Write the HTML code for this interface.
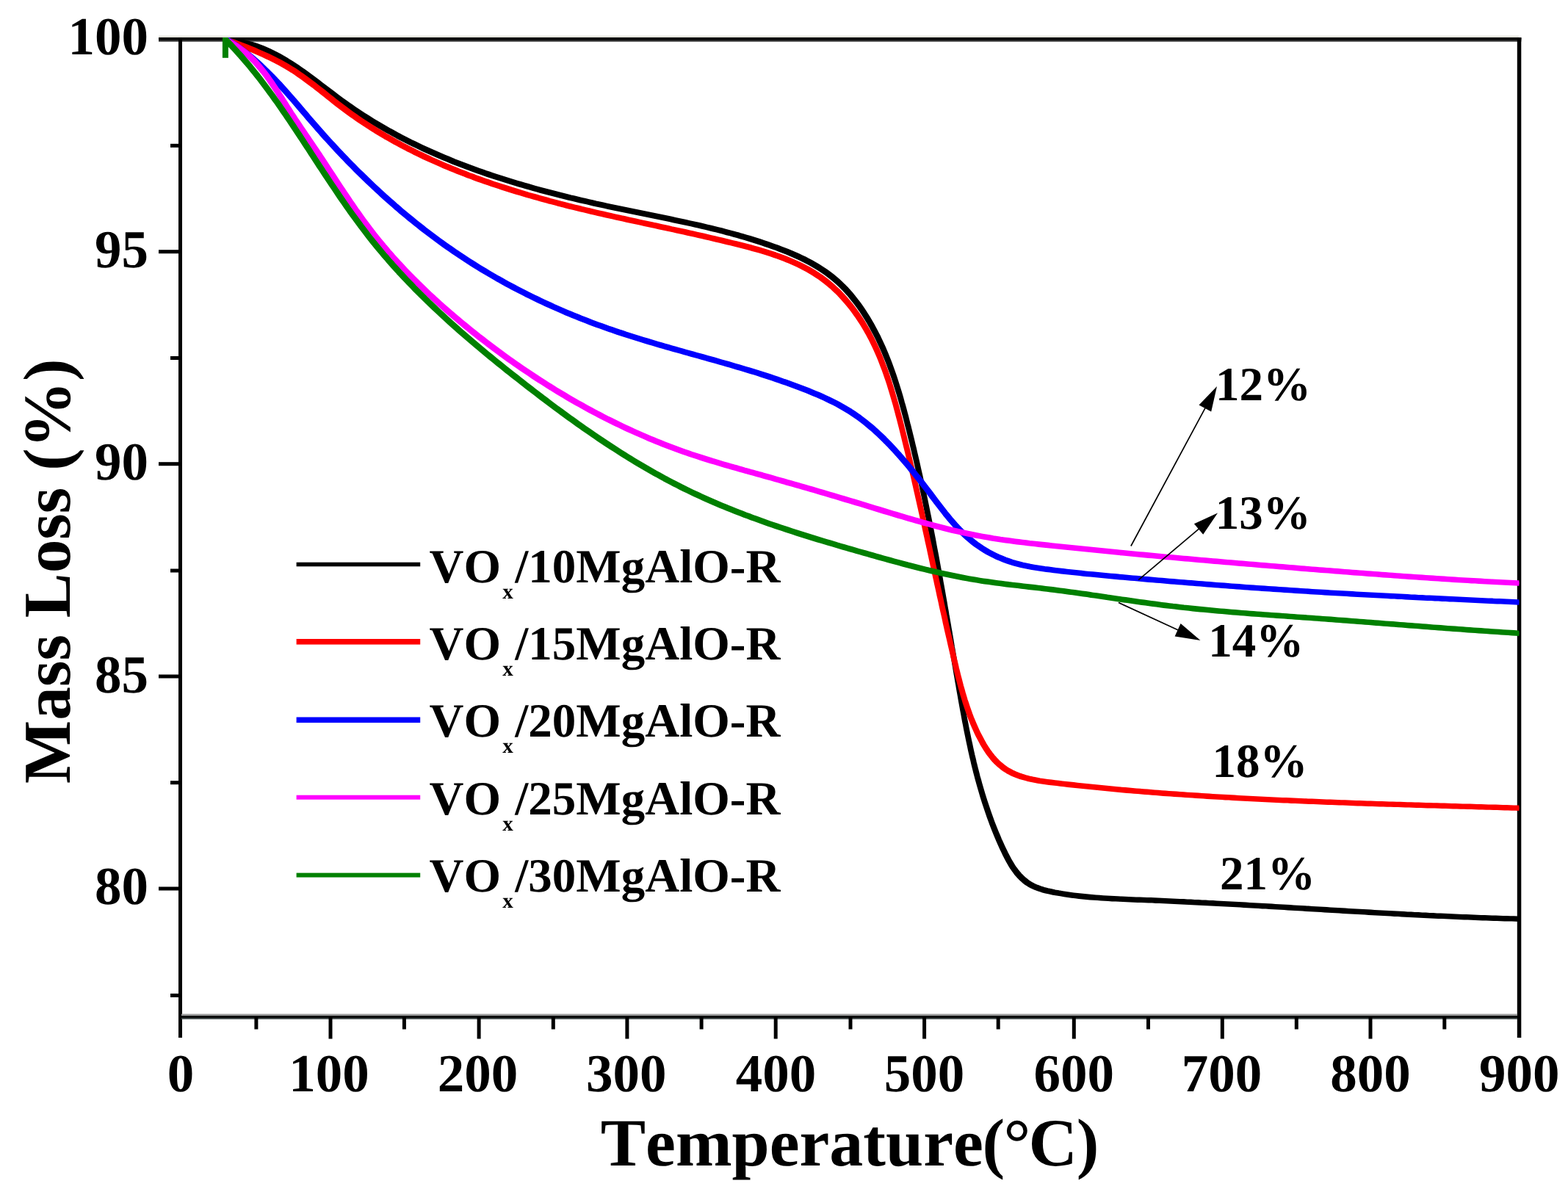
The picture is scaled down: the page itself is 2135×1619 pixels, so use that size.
<!DOCTYPE html>
<html lang="en"><head><meta charset="utf-8"><title>TG curves</title>
<style>html,body{margin:0;padding:0;background:#fff;}body{width:2135px;height:1619px;overflow:hidden;}svg{display:block;}text{font-family:"Liberation Serif","Times New Roman",serif;font-weight:bold;fill:#000;font-kerning:none;font-variant-ligatures:none;text-rendering:geometricPrecision;}</style></head><body>
<svg xmlns="http://www.w3.org/2000/svg" width="2135" height="1619" viewBox="0 0 2135 1619">
<rect width="2135" height="1619" fill="#fff"/>
<g fill="#000">
<rect x="216" y="48.6" width="1852" height="2.6" fill="#e3e3dc"/>
<rect x="216" y="51.1" width="1855.3" height="5.6" fill="#303030"/>
<rect x="216" y="51.1" width="1855.3" height="3.3"/>
<rect x="243" y="51.1" width="5" height="1361.9"/>
<rect x="2065.8" y="51.1" width="5.5" height="1361.9"/>
<rect x="247" y="1380.6" width="1819" height="3" fill="#9a9a9a"/>
<rect x="247" y="1383.2" width="1819" height="4.6" fill="#3a4444"/>
<rect x="247" y="1383.4" width="1819" height="2.4" fill="#000"/>
<rect x="216" y="340.2" width="28" height="5"/>
<rect x="216" y="629.2" width="28" height="5"/>
<rect x="216" y="918.5" width="28" height="5"/>
<rect x="216" y="1207.5" width="28" height="5"/>
<rect x="232" y="195.8" width="12" height="5"/>
<rect x="232" y="485.0" width="12" height="5"/>
<rect x="232" y="774.5" width="12" height="5"/>
<rect x="232" y="1063.2" width="12" height="5"/>
<rect x="232" y="1352.9" width="12" height="5"/>
<rect x="447.5" y="1384" width="5" height="30.5"/>
<rect x="649.6" y="1384" width="5" height="30.5"/>
<rect x="851.4" y="1384" width="5" height="30.5"/>
<rect x="1053.7" y="1384" width="5" height="30.5"/>
<rect x="1256.1" y="1384" width="5" height="30.5"/>
<rect x="1459.8" y="1384" width="5" height="30.5"/>
<rect x="1661.8" y="1384" width="5" height="30.5"/>
<rect x="1863.5" y="1384" width="5" height="30.5"/>
<rect x="346.4" y="1384" width="5" height="17.5"/>
<rect x="547.9" y="1384" width="5" height="17.5"/>
<rect x="750.8" y="1384" width="5" height="17.5"/>
<rect x="952.6" y="1384" width="5" height="17.5"/>
<rect x="1155.5" y="1384" width="5" height="17.5"/>
<rect x="1356.7" y="1384" width="5" height="17.5"/>
<rect x="1561.0" y="1384" width="5" height="17.5"/>
<rect x="1762.8" y="1384" width="5" height="17.5"/>
<rect x="1964.3" y="1384" width="5" height="17.5"/>
</g>
<defs><clipPath id="pc"><rect x="245" y="51.1" width="1823.4" height="1333"/></clipPath></defs>
<g clip-path="url(#pc)">
<path d="M305.9 52.9L308.8 52.9L314.1 53.4L319.3 54.0L324.4 54.7L329.5 55.7L334.4 56.8L339.3 58.0L344.2 59.4L348.9 60.9L353.6 62.6L358.3 64.4L362.8 66.3L367.3 68.3L371.8 70.4L376.2 72.7L380.6 75.0L384.9 77.4L389.2 79.9L393.4 82.5L397.6 85.2L401.8 87.9L406.0 90.7L410.1 93.5L414.2 96.4L418.3 99.3L422.3 102.3L426.4 105.3L430.4 108.3L434.4 111.3L438.4 114.4L442.5 117.5L446.5 120.5L450.5 123.6L454.5 126.6L458.6 129.7L462.6 132.7L466.7 135.7L470.7 138.6L474.8 141.5L479.0 144.4L483.1 147.3L487.3 150.1L491.4 152.8L495.6 155.6L499.8 158.2L504.1 160.9L508.3 163.5L512.6 166.1L516.9 168.7L521.2 171.2L525.5 173.7L529.8 176.1L534.2 178.5L538.6 180.9L542.9 183.3L547.3 185.6L551.8 187.9L556.2 190.1L560.6 192.4L565.1 194.6L569.6 196.7L574.1 198.9L578.6 201.0L583.1 203.1L587.6 205.1L592.2 207.1L596.7 209.1L601.3 211.1L605.9 213.0L610.5 214.9L615.1 216.8L619.7 218.7L624.4 220.5L629.0 222.3L633.7 224.1L638.3 225.8L643.0 227.6L647.7 229.3L652.4 231.0L657.1 232.6L661.8 234.3L666.6 235.9L671.3 237.5L676.0 239.0L680.8 240.6L685.6 242.1L690.3 243.6L695.1 245.1L699.9 246.6L704.7 248.0L709.5 249.4L714.3 250.8L719.1 252.2L723.9 253.6L728.8 255.0L733.6 256.3L738.4 257.6L743.3 258.9L748.1 260.2L753.0 261.5L757.9 262.7L762.7 263.9L767.6 265.2L772.5 266.4L777.3 267.6L782.2 268.7L787.1 269.9L792.0 271.1L796.9 272.2L801.8 273.3L806.7 274.4L811.6 275.6L816.5 276.6L821.4 277.7L826.3 278.8L831.2 279.9L836.1 280.9L841.0 281.9L845.9 283.0L850.8 284.0L855.7 285.0L860.6 286.0L865.5 287.0L870.4 288.0L875.3 289.0L880.2 290.0L885.1 291.0L890.0 292.0L894.9 293.0L899.8 294.0L904.7 295.0L909.6 296.0L914.5 297.0L919.4 298.1L924.3 299.1L929.2 300.1L934.0 301.2L938.9 302.3L943.8 303.3L948.7 304.4L953.5 305.5L958.4 306.7L963.2 307.8L968.1 308.9L972.9 310.1L977.8 311.3L982.6 312.5L987.5 313.8L992.3 315.1L997.1 316.3L1001.9 317.7L1006.8 319.0L1011.6 320.4L1016.4 321.8L1021.2 323.2L1025.9 324.7L1030.7 326.2L1035.5 327.7L1040.3 329.3L1045.0 330.9L1049.8 332.5L1054.5 334.2L1059.2 335.9L1064.0 337.7L1068.7 339.5L1073.3 341.4L1078.0 343.3L1082.6 345.3L1087.2 347.3L1091.7 349.4L1096.2 351.6L1100.7 353.9L1105.1 356.3L1109.4 358.7L1113.7 361.2L1117.9 363.8L1122.1 366.5L1126.2 369.4L1130.2 372.3L1134.1 375.3L1137.9 378.4L1141.7 381.7L1145.3 385.1L1148.9 388.5L1152.4 392.1L1155.8 395.8L1159.1 399.5L1162.3 403.4L1165.4 407.3L1168.5 411.3L1171.5 415.4L1174.4 419.5L1177.2 423.7L1179.9 428.0L1182.6 432.2L1185.2 436.6L1187.7 440.9L1190.1 445.3L1192.5 449.7L1194.8 454.2L1197.1 458.6L1199.2 463.1L1201.3 467.7L1203.4 472.2L1205.4 476.8L1207.3 481.4L1209.2 486.0L1211.0 490.6L1212.8 495.3L1214.5 500.0L1216.2 504.7L1217.9 509.4L1219.5 514.1L1221.0 518.8L1222.5 523.6L1224.0 528.4L1225.5 533.2L1226.9 537.9L1228.3 542.7L1229.6 547.6L1231.0 552.4L1232.3 557.2L1233.6 562.0L1234.9 566.9L1236.1 571.7L1237.3 576.6L1238.6 581.4L1239.8 586.3L1241.0 591.2L1242.2 596.0L1243.4 600.9L1244.5 605.7L1245.7 610.6L1246.8 615.5L1248.0 620.4L1249.1 625.2L1250.2 630.1L1251.3 635.0L1252.4 639.9L1253.5 644.8L1254.6 649.6L1255.6 654.5L1256.7 659.4L1257.7 664.3L1258.8 669.2L1259.8 674.1L1260.8 679.0L1261.8 683.9L1262.8 688.8L1263.8 693.7L1264.8 698.6L1265.8 703.5L1266.8 708.4L1267.8 713.3L1268.7 718.2L1269.7 723.1L1270.6 728.0L1271.6 733.0L1272.5 737.9L1273.4 742.8L1274.3 747.7L1275.3 752.6L1276.2 757.5L1277.1 762.5L1278.0 767.4L1278.9 772.3L1279.8 777.2L1280.7 782.2L1281.6 787.1L1282.4 792.0L1283.3 796.9L1284.2 801.9L1285.1 806.8L1285.9 811.7L1286.8 816.7L1287.7 821.6L1288.5 826.5L1289.4 831.4L1290.2 836.4L1291.1 841.3L1291.9 846.2L1292.8 851.2L1293.6 856.1L1294.5 861.0L1295.3 866.0L1296.2 870.9L1297.0 875.8L1297.8 880.8L1298.7 885.7L1299.5 890.6L1300.4 895.6L1301.2 900.5L1302.1 905.4L1302.9 910.4L1303.7 915.3L1304.6 920.2L1305.4 925.2L1306.3 930.1L1307.1 935.0L1308.0 940.0L1308.9 944.9L1309.7 949.8L1310.6 954.7L1311.5 959.7L1312.4 964.6L1313.3 969.5L1314.2 974.4L1315.1 979.3L1316.1 984.3L1317.0 989.2L1318.0 994.1L1319.0 999.0L1320.0 1003.9L1321.0 1008.7L1322.1 1013.6L1323.1 1018.5L1324.2 1023.4L1325.3 1028.3L1326.5 1033.1L1327.6 1038.0L1328.8 1042.8L1330.0 1047.7L1331.3 1052.5L1332.5 1057.3L1333.9 1062.2L1335.2 1067.0L1336.6 1071.8L1338.0 1076.6L1339.4 1081.4L1340.9 1086.2L1342.4 1090.9L1344.0 1095.7L1345.6 1100.5L1347.2 1105.2L1348.9 1110.0L1350.6 1114.7L1352.3 1119.4L1354.1 1124.1L1356.0 1128.8L1357.9 1133.5L1359.9 1138.2L1361.8 1142.8L1363.9 1147.5L1366.0 1152.1L1368.2 1156.7L1370.4 1161.3L1372.7 1165.8L1375.1 1170.3L1377.6 1174.6L1380.2 1178.9L1383.0 1182.9L1385.9 1186.8L1389.1 1190.5L1392.4 1193.9L1395.9 1197.1L1399.6 1200.0L1403.6 1202.6L1407.9 1204.9L1412.3 1206.9L1416.9 1208.6L1421.7 1210.1L1426.6 1211.4L1431.6 1212.5L1436.7 1213.6L1441.7 1214.5L1446.8 1215.3L1451.9 1216.1L1456.9 1216.9L1461.9 1217.6L1467.0 1218.2L1472.0 1218.8L1477.0 1219.3L1482.0 1219.8L1487.0 1220.3L1492.1 1220.7L1497.1 1221.0L1502.0 1221.4L1507.0 1221.7L1512.0 1222.0L1517.0 1222.3L1522.0 1222.5L1527.0 1222.7L1532.0 1223.0L1536.9 1223.2L1541.9 1223.4L1546.9 1223.6L1551.9 1223.8L1556.9 1223.9L1561.8 1224.1L1566.8 1224.3L1571.8 1224.5L1576.8 1224.8L1581.8 1225.0L1586.7 1225.2L1591.7 1225.4L1596.7 1225.6L1601.7 1225.9L1606.7 1226.1L1611.7 1226.3L1616.7 1226.6L1621.6 1226.8L1626.6 1227.1L1631.6 1227.3L1636.6 1227.6L1641.6 1227.8L1646.6 1228.1L1651.6 1228.3L1656.6 1228.6L1661.6 1228.9L1666.6 1229.1L1671.5 1229.4L1676.5 1229.7L1681.5 1230.0L1686.5 1230.2L1691.5 1230.5L1696.5 1230.8L1701.5 1231.1L1706.5 1231.4L1711.5 1231.7L1716.5 1232.0L1721.5 1232.3L1726.5 1232.5L1731.5 1232.8L1736.5 1233.1L1741.5 1233.4L1746.5 1233.7L1751.5 1234.0L1756.5 1234.3L1761.5 1234.6L1766.5 1234.9L1771.5 1235.2L1776.5 1235.5L1781.5 1235.8L1786.5 1236.1L1791.5 1236.4L1796.5 1236.7L1801.5 1237.0L1806.5 1237.3L1811.5 1237.6L1816.5 1237.9L1821.5 1238.2L1826.5 1238.5L1831.5 1238.8L1836.5 1239.1L1841.5 1239.4L1846.5 1239.7L1851.5 1240.0L1856.5 1240.2L1861.5 1240.5L1866.5 1240.8L1871.5 1241.1L1876.5 1241.4L1881.5 1241.7L1886.5 1241.9L1891.5 1242.2L1896.5 1242.5L1901.5 1242.8L1906.5 1243.0L1911.5 1243.3L1916.5 1243.6L1921.5 1243.8L1926.5 1244.1L1931.5 1244.3L1936.5 1244.6L1941.5 1244.8L1946.5 1245.1L1951.5 1245.3L1956.5 1245.6L1961.5 1245.8L1966.5 1246.0L1971.5 1246.2L1976.5 1246.5L1981.5 1246.7L1986.5 1246.9L1991.5 1247.1L1996.5 1247.3L2001.5 1247.5L2006.5 1247.7L2011.5 1247.9L2016.5 1248.1L2021.5 1248.3L2026.5 1248.4L2031.5 1248.6L2036.5 1248.8L2041.5 1248.9L2046.4 1249.1L2051.4 1249.3L2056.4 1249.4L2061.4 1249.5L2066.4 1249.7L2071.4 1249.8L2071.4 1252.7L2068.5 1252.7L2063.5 1252.6L2058.5 1252.4L2053.5 1252.3L2048.5 1252.2L2043.5 1252.0L2038.6 1251.8L2033.6 1251.7L2028.6 1251.5L2023.6 1251.3L2018.6 1251.2L2013.6 1251.0L2008.6 1250.8L2003.6 1250.6L1998.6 1250.4L1993.6 1250.2L1988.6 1250.0L1983.6 1249.8L1978.6 1249.6L1973.6 1249.4L1968.6 1249.1L1963.6 1248.9L1958.6 1248.7L1953.6 1248.5L1948.6 1248.2L1943.6 1248.0L1938.6 1247.7L1933.6 1247.5L1928.6 1247.2L1923.6 1247.0L1918.6 1246.7L1913.6 1246.5L1908.6 1246.2L1903.6 1245.9L1898.6 1245.7L1893.6 1245.4L1888.6 1245.1L1883.6 1244.8L1878.6 1244.6L1873.6 1244.3L1868.6 1244.0L1863.6 1243.7L1858.6 1243.4L1853.6 1243.1L1848.6 1242.9L1843.6 1242.6L1838.6 1242.3L1833.6 1242.0L1828.6 1241.7L1823.6 1241.4L1818.6 1241.1L1813.6 1240.8L1808.6 1240.5L1803.6 1240.2L1798.6 1239.9L1793.6 1239.6L1788.6 1239.3L1783.6 1239.0L1778.6 1238.7L1773.6 1238.4L1768.6 1238.1L1763.6 1237.8L1758.6 1237.5L1753.6 1237.2L1748.6 1236.9L1743.6 1236.6L1738.6 1236.3L1733.6 1236.0L1728.6 1235.7L1723.6 1235.4L1718.6 1235.2L1713.6 1234.9L1708.6 1234.6L1703.6 1234.3L1698.6 1234.0L1693.6 1233.7L1688.6 1233.4L1683.6 1233.1L1678.6 1232.9L1673.6 1232.6L1668.6 1232.3L1663.7 1232.0L1658.7 1231.8L1653.7 1231.5L1648.7 1231.2L1643.7 1231.0L1638.7 1230.7L1633.7 1230.5L1628.7 1230.2L1623.7 1230.0L1618.7 1229.7L1613.8 1229.5L1608.8 1229.2L1603.8 1229.0L1598.8 1228.8L1593.8 1228.5L1588.8 1228.3L1583.8 1228.1L1578.9 1227.9L1573.9 1227.7L1568.9 1227.4L1563.9 1227.2L1558.9 1227.0L1554.0 1226.8L1549.0 1226.7L1544.0 1226.5L1539.0 1226.3L1534.0 1226.1L1529.1 1225.9L1524.1 1225.6L1519.1 1225.4L1514.1 1225.2L1509.1 1224.9L1504.1 1224.6L1499.1 1224.3L1494.2 1223.9L1489.2 1223.6L1484.1 1223.2L1479.1 1222.7L1474.1 1222.2L1469.1 1221.7L1464.1 1221.1L1459.0 1220.5L1454.0 1219.8L1449.0 1219.0L1443.9 1218.2L1438.8 1217.4L1433.8 1216.5L1428.7 1215.4L1423.7 1214.3L1418.8 1213.0L1414.0 1211.5L1409.4 1209.8L1405.0 1207.8L1400.7 1205.5L1396.7 1202.9L1393.0 1200.0L1389.5 1196.8L1386.2 1193.4L1383.0 1189.7L1380.1 1185.8L1377.3 1181.8L1374.7 1177.5L1372.2 1173.2L1369.8 1168.7L1367.5 1164.2L1365.3 1159.6L1363.1 1155.0L1361.0 1150.4L1358.9 1145.7L1357.0 1141.1L1355.0 1136.4L1353.1 1131.7L1351.2 1127.0L1349.4 1122.3L1347.7 1117.6L1346.0 1112.9L1344.3 1108.1L1342.7 1103.4L1341.1 1098.6L1339.5 1093.8L1338.0 1089.1L1336.5 1084.3L1335.1 1079.5L1333.7 1074.7L1332.3 1069.9L1331.0 1065.1L1329.6 1060.2L1328.4 1055.4L1327.1 1050.6L1325.9 1045.7L1324.7 1040.9L1323.6 1036.0L1322.4 1031.2L1321.3 1026.3L1320.2 1021.4L1319.2 1016.5L1318.1 1011.6L1317.1 1006.8L1316.1 1001.9L1315.1 997.0L1314.1 992.1L1313.2 987.2L1312.2 982.2L1311.3 977.3L1310.4 972.4L1309.5 967.5L1308.6 962.6L1307.7 957.6L1306.8 952.7L1306.0 947.8L1305.1 942.9L1304.2 937.9L1303.4 933.0L1302.5 928.1L1301.7 923.1L1300.8 918.2L1300.0 913.3L1299.2 908.3L1298.3 903.4L1297.5 898.5L1296.6 893.5L1295.8 888.6L1294.9 883.7L1294.1 878.7L1293.3 873.8L1292.4 868.9L1291.6 863.9L1290.7 859.0L1289.9 854.1L1289.0 849.1L1288.2 844.2L1287.3 839.3L1286.5 834.3L1285.6 829.4L1284.8 824.5L1283.9 819.6L1283.0 814.6L1282.2 809.7L1281.3 804.8L1280.4 799.8L1279.5 794.9L1278.7 790.0L1277.8 785.1L1276.9 780.1L1276.0 775.2L1275.1 770.3L1274.2 765.4L1273.3 760.4L1272.4 755.5L1271.4 750.6L1270.5 745.7L1269.6 740.8L1268.7 735.9L1267.7 730.9L1266.8 726.0L1265.8 721.1L1264.9 716.2L1263.9 711.3L1262.9 706.4L1261.9 701.5L1260.9 696.6L1259.9 691.7L1258.9 686.8L1257.9 681.9L1256.9 677.0L1255.9 672.1L1254.8 667.2L1253.8 662.3L1252.7 657.4L1251.7 652.5L1250.6 647.7L1249.5 642.8L1248.4 637.9L1247.3 633.0L1246.2 628.1L1245.1 623.3L1243.9 618.4L1242.8 613.5L1241.6 608.6L1240.5 603.8L1239.3 598.9L1238.1 594.1L1236.9 589.2L1235.7 584.3L1234.4 579.5L1233.2 574.6L1232.0 569.8L1230.7 564.9L1229.4 560.1L1228.1 555.3L1226.7 550.5L1225.4 545.6L1224.0 540.8L1222.6 536.1L1221.1 531.3L1219.6 526.5L1218.1 521.7L1216.6 517.0L1215.0 512.3L1213.3 507.6L1211.6 502.9L1209.9 498.2L1208.1 493.5L1206.3 488.9L1204.4 484.3L1202.5 479.7L1200.5 475.1L1198.4 470.6L1196.3 466.0L1194.2 461.5L1191.9 457.1L1189.6 452.6L1187.2 448.2L1184.8 443.8L1182.3 439.5L1179.7 435.1L1177.0 430.9L1174.3 426.6L1171.5 422.4L1168.6 418.3L1165.6 414.2L1162.5 410.2L1159.4 406.3L1156.2 402.4L1152.9 398.7L1149.5 395.0L1146.0 391.4L1142.4 388.0L1138.8 384.6L1135.0 381.3L1131.2 378.2L1127.3 375.2L1123.3 372.3L1119.2 369.4L1115.0 366.7L1110.8 364.1L1106.5 361.6L1102.2 359.2L1097.8 356.8L1093.3 354.5L1088.8 352.3L1084.3 350.2L1079.7 348.2L1075.1 346.2L1070.4 344.3L1065.8 342.4L1061.1 340.6L1056.3 338.8L1051.6 337.1L1046.9 335.4L1042.1 333.8L1037.4 332.2L1032.6 330.6L1027.8 329.1L1023.0 327.6L1018.3 326.1L1013.5 324.7L1008.7 323.3L1003.9 321.9L999.0 320.6L994.2 319.2L989.4 318.0L984.6 316.7L979.7 315.4L974.9 314.2L970.0 313.0L965.2 311.8L960.3 310.7L955.5 309.6L950.6 308.4L945.8 307.3L940.9 306.2L936.0 305.2L931.1 304.1L926.3 303.0L921.4 302.0L916.5 301.0L911.6 299.9L906.7 298.9L901.8 297.9L896.9 296.9L892.0 295.9L887.1 294.9L882.2 293.9L877.3 292.9L872.4 291.9L867.5 290.9L862.6 289.9L857.7 288.9L852.8 287.9L847.9 286.9L843.0 285.9L838.1 284.8L833.2 283.8L828.3 282.8L823.4 281.7L818.5 280.6L813.6 279.5L808.7 278.5L803.8 277.3L798.9 276.2L794.0 275.1L789.1 274.0L784.2 272.8L779.3 271.6L774.4 270.5L769.6 269.3L764.7 268.1L759.8 266.8L755.0 265.6L750.1 264.4L745.2 263.1L740.4 261.8L735.5 260.5L730.7 259.2L725.9 257.9L721.0 256.5L716.2 255.1L711.4 253.7L706.6 252.3L701.8 250.9L697.0 249.5L692.2 248.0L687.4 246.5L682.7 245.0L677.9 243.5L673.1 241.9L668.4 240.4L663.7 238.8L658.9 237.2L654.2 235.5L649.5 233.9L644.8 232.2L640.1 230.5L635.4 228.7L630.8 227.0L626.1 225.2L621.5 223.4L616.8 221.6L612.2 219.7L607.6 217.8L603.0 215.9L598.4 214.0L593.8 212.0L589.3 210.0L584.7 208.0L580.2 206.0L575.7 203.9L571.2 201.8L566.7 199.6L562.2 197.5L557.7 195.3L553.3 193.0L548.9 190.8L544.4 188.5L540.0 186.2L535.7 183.8L531.3 181.4L526.9 179.0L522.6 176.6L518.3 174.1L514.0 171.6L509.7 169.0L505.4 166.4L501.2 163.8L496.9 161.1L492.7 158.5L488.5 155.7L484.4 153.0L480.2 150.2L476.1 147.3L471.9 144.4L467.8 141.5L463.8 138.6L459.7 135.6L455.7 132.6L451.6 129.5L447.6 126.5L443.6 123.4L439.6 120.4L435.5 117.3L431.5 114.2L427.5 111.2L423.5 108.2L419.4 105.2L415.4 102.2L411.3 99.3L407.2 96.4L403.1 93.6L398.9 90.8L394.7 88.1L390.5 85.4L386.3 82.8L382.0 80.3L377.7 77.9L373.3 75.6L368.9 73.3L364.4 71.2L359.9 69.2L355.4 67.3L350.7 65.5L346.0 63.8L341.3 62.3L336.4 60.9L331.5 59.7L326.6 58.6L321.5 57.6L316.4 56.9L311.2 56.3L305.9 55.8Z" fill="#000" stroke="#000" stroke-width="4.4" stroke-linejoin="round"/>
<path d="M306.8 52.5L309.7 52.5L314.3 54.2L319.0 56.0L323.6 57.7L328.3 59.5L332.9 61.3L337.6 63.1L342.2 65.0L346.8 66.9L351.4 68.9L356.0 70.9L360.6 72.9L365.2 75.0L369.7 77.2L374.2 79.4L378.6 81.6L383.0 84.0L387.4 86.4L391.8 88.9L396.0 91.5L400.3 94.1L404.5 96.9L408.6 99.7L412.7 102.6L416.8 105.5L420.8 108.5L424.9 111.5L428.9 114.5L432.8 117.6L436.8 120.7L440.8 123.8L444.7 127.0L448.6 130.1L452.6 133.2L456.5 136.4L460.5 139.5L464.5 142.5L468.5 145.6L472.5 148.6L476.5 151.6L480.6 154.5L484.7 157.4L488.8 160.2L492.9 163.1L497.1 165.8L501.3 168.6L505.5 171.3L509.7 173.9L513.9 176.6L518.2 179.2L522.4 181.7L526.7 184.3L531.1 186.7L535.4 189.2L539.7 191.6L544.1 194.0L548.5 196.4L552.9 198.7L557.3 201.0L561.8 203.2L566.2 205.5L570.7 207.7L575.2 209.8L579.7 212.0L584.2 214.1L588.7 216.2L593.3 218.2L597.8 220.2L602.4 222.2L607.0 224.2L611.6 226.1L616.2 228.0L620.8 229.9L625.4 231.8L630.1 233.6L634.8 235.4L639.4 237.2L644.1 238.9L648.8 240.7L653.5 242.4L658.2 244.0L662.9 245.7L667.7 247.3L672.4 249.0L677.2 250.6L681.9 252.1L686.7 253.7L691.5 255.2L696.2 256.7L701.0 258.2L705.8 259.7L710.6 261.1L715.4 262.5L720.2 264.0L725.0 265.3L729.9 266.7L734.7 268.1L739.5 269.4L744.4 270.7L749.2 272.1L754.0 273.3L758.9 274.6L763.7 275.9L768.6 277.1L773.4 278.4L778.3 279.6L783.1 280.8L788.0 282.0L792.8 283.2L797.7 284.3L802.6 285.5L807.4 286.6L812.3 287.8L817.1 288.9L822.0 290.0L826.9 291.1L831.7 292.2L836.6 293.3L841.5 294.4L846.3 295.5L851.2 296.5L856.0 297.6L860.9 298.7L865.8 299.7L870.7 300.8L875.5 301.8L880.4 302.9L885.3 303.9L890.1 305.0L895.0 306.0L899.9 307.1L904.8 308.2L909.7 309.2L914.5 310.3L919.4 311.3L924.3 312.4L929.2 313.5L934.1 314.5L939.0 315.6L943.9 316.7L948.8 317.8L953.7 318.9L958.6 320.0L963.5 321.1L968.4 322.3L973.3 323.4L978.2 324.6L983.1 325.7L988.0 326.9L992.9 328.1L997.8 329.3L1002.7 330.5L1007.6 331.7L1012.6 333.0L1017.5 334.2L1022.4 335.5L1027.3 336.9L1032.2 338.2L1037.0 339.6L1041.9 341.1L1046.7 342.6L1051.5 344.1L1056.3 345.7L1061.0 347.4L1065.7 349.1L1070.4 350.9L1075.0 352.7L1079.6 354.7L1084.1 356.7L1088.6 358.7L1093.1 360.9L1097.4 363.2L1101.8 365.5L1106.0 368.0L1110.2 370.5L1114.4 373.2L1118.4 375.9L1122.4 378.8L1126.4 381.8L1130.2 384.9L1134.0 388.1L1137.6 391.5L1141.3 394.9L1144.8 398.4L1148.2 402.1L1151.6 405.8L1154.9 409.6L1158.1 413.4L1161.2 417.4L1164.2 421.4L1167.2 425.5L1170.1 429.6L1172.9 433.8L1175.6 438.0L1178.2 442.3L1180.7 446.6L1183.2 450.9L1185.6 455.3L1187.9 459.7L1190.1 464.2L1192.3 468.7L1194.4 473.2L1196.4 477.7L1198.4 482.3L1200.3 486.9L1202.1 491.5L1203.9 496.2L1205.7 500.9L1207.4 505.6L1209.0 510.3L1210.6 515.0L1212.2 519.8L1213.7 524.6L1215.2 529.4L1216.6 534.2L1218.0 539.0L1219.4 543.8L1220.8 548.6L1222.1 553.5L1223.4 558.3L1224.7 563.2L1226.0 568.1L1227.2 572.9L1228.5 577.8L1229.7 582.7L1230.9 587.6L1232.1 592.4L1233.3 597.3L1234.5 602.2L1235.7 607.0L1236.9 611.9L1238.1 616.8L1239.2 621.7L1240.4 626.5L1241.5 631.4L1242.7 636.3L1243.8 641.1L1245.0 646.0L1246.1 650.9L1247.2 655.8L1248.3 660.6L1249.4 665.5L1250.5 670.4L1251.6 675.3L1252.7 680.1L1253.8 685.0L1254.9 689.9L1256.0 694.8L1257.1 699.6L1258.1 704.5L1259.2 709.4L1260.3 714.3L1261.3 719.2L1262.4 724.0L1263.5 728.9L1264.5 733.8L1265.6 738.7L1266.7 743.5L1267.7 748.4L1268.8 753.3L1269.8 758.2L1270.9 763.1L1271.9 767.9L1273.0 772.8L1274.1 777.7L1275.1 782.6L1276.2 787.4L1277.2 792.3L1278.3 797.2L1279.4 802.1L1280.4 807.0L1281.5 811.8L1282.6 816.7L1283.6 821.6L1284.7 826.5L1285.8 831.4L1286.9 836.2L1288.0 841.1L1289.0 846.0L1290.1 850.9L1291.2 855.8L1292.3 860.6L1293.5 865.5L1294.6 870.4L1295.7 875.3L1296.8 880.2L1298.0 885.1L1299.1 889.9L1300.2 894.8L1301.4 899.7L1302.6 904.6L1303.7 909.5L1304.9 914.3L1306.1 919.2L1307.4 924.1L1308.6 928.9L1309.9 933.8L1311.3 938.6L1312.6 943.4L1314.1 948.3L1315.5 953.1L1317.1 957.8L1318.7 962.6L1320.3 967.3L1322.0 972.1L1323.8 976.8L1325.7 981.4L1327.7 986.1L1329.7 990.7L1331.8 995.3L1334.0 999.9L1336.4 1004.4L1338.8 1008.9L1341.3 1013.3L1344.0 1017.6L1346.7 1021.7L1349.7 1025.8L1352.7 1029.6L1355.9 1033.3L1359.3 1036.8L1362.8 1040.0L1366.5 1043.0L1370.3 1045.8L1374.4 1048.3L1378.5 1050.5L1382.9 1052.5L1387.3 1054.3L1391.9 1055.9L1396.6 1057.3L1401.4 1058.6L1406.2 1059.7L1411.2 1060.7L1416.1 1061.6L1421.2 1062.4L1426.3 1063.1L1431.4 1063.8L1436.5 1064.4L1441.6 1065.0L1446.7 1065.6L1451.8 1066.2L1456.9 1066.8L1462.0 1067.3L1467.0 1067.9L1472.1 1068.4L1477.1 1069.0L1482.2 1069.5L1487.2 1070.0L1492.3 1070.5L1497.3 1071.0L1502.3 1071.5L1507.3 1072.0L1512.3 1072.5L1517.3 1073.0L1522.3 1073.4L1527.3 1073.9L1532.3 1074.3L1537.3 1074.8L1542.2 1075.2L1547.2 1075.6L1552.2 1076.0L1557.1 1076.4L1562.1 1076.8L1567.1 1077.2L1572.0 1077.6L1577.0 1078.0L1581.9 1078.4L1586.9 1078.8L1591.8 1079.1L1596.8 1079.5L1601.8 1079.8L1606.7 1080.2L1611.7 1080.5L1616.6 1080.9L1621.6 1081.2L1626.5 1081.5L1631.5 1081.8L1636.5 1082.2L1641.4 1082.5L1646.4 1082.8L1651.4 1083.1L1656.3 1083.4L1661.3 1083.7L1666.3 1084.0L1671.3 1084.3L1676.2 1084.5L1681.2 1084.8L1686.2 1085.1L1691.2 1085.4L1696.2 1085.6L1701.2 1085.9L1706.2 1086.1L1711.1 1086.4L1716.1 1086.7L1721.1 1086.9L1726.1 1087.1L1731.1 1087.4L1736.1 1087.6L1741.1 1087.9L1746.1 1088.1L1751.1 1088.3L1756.1 1088.5L1761.1 1088.8L1766.2 1089.0L1771.2 1089.2L1776.2 1089.4L1781.2 1089.6L1786.2 1089.8L1791.2 1090.0L1796.2 1090.2L1801.2 1090.4L1806.2 1090.6L1811.3 1090.8L1816.3 1091.0L1821.3 1091.2L1826.3 1091.4L1831.3 1091.5L1836.3 1091.7L1841.3 1091.9L1846.4 1092.1L1851.4 1092.3L1856.4 1092.4L1861.4 1092.6L1866.4 1092.8L1871.4 1092.9L1876.4 1093.1L1881.5 1093.3L1886.5 1093.4L1891.5 1093.6L1896.5 1093.7L1901.5 1093.9L1906.5 1094.0L1911.5 1094.2L1916.5 1094.4L1921.6 1094.5L1926.6 1094.7L1931.6 1094.8L1936.6 1095.0L1941.6 1095.1L1946.6 1095.3L1951.6 1095.4L1956.6 1095.5L1961.6 1095.7L1966.6 1095.8L1971.6 1096.0L1976.6 1096.1L1981.6 1096.3L1986.6 1096.4L1991.6 1096.6L1996.6 1096.7L2001.6 1096.8L2006.6 1097.0L2011.6 1097.1L2016.5 1097.3L2021.5 1097.4L2026.5 1097.6L2031.5 1097.7L2036.5 1097.8L2041.5 1098.0L2046.4 1098.1L2051.4 1098.3L2056.4 1098.4L2061.3 1098.6L2066.3 1098.7L2071.3 1098.8L2071.3 1101.7L2068.4 1101.7L2063.4 1101.6L2058.4 1101.5L2053.5 1101.3L2048.5 1101.2L2043.5 1101.0L2038.6 1100.9L2033.6 1100.7L2028.6 1100.6L2023.6 1100.5L2018.6 1100.3L2013.6 1100.2L2008.7 1100.0L2003.7 1099.9L1998.7 1099.7L1993.7 1099.6L1988.7 1099.5L1983.7 1099.3L1978.7 1099.2L1973.7 1099.0L1968.7 1098.9L1963.7 1098.7L1958.7 1098.6L1953.7 1098.4L1948.7 1098.3L1943.7 1098.2L1938.7 1098.0L1933.7 1097.9L1928.7 1097.7L1923.7 1097.6L1918.7 1097.4L1913.6 1097.3L1908.6 1097.1L1903.6 1096.9L1898.6 1096.8L1893.6 1096.6L1888.6 1096.5L1883.6 1096.3L1878.6 1096.2L1873.5 1096.0L1868.5 1095.8L1863.5 1095.7L1858.5 1095.5L1853.5 1095.3L1848.5 1095.2L1843.5 1095.0L1838.4 1094.8L1833.4 1094.6L1828.4 1094.4L1823.4 1094.3L1818.4 1094.1L1813.4 1093.9L1808.4 1093.7L1803.3 1093.5L1798.3 1093.3L1793.3 1093.1L1788.3 1092.9L1783.3 1092.7L1778.3 1092.5L1773.3 1092.3L1768.3 1092.1L1763.3 1091.9L1758.2 1091.7L1753.2 1091.4L1748.2 1091.2L1743.2 1091.0L1738.2 1090.8L1733.2 1090.5L1728.2 1090.3L1723.2 1090.0L1718.2 1089.8L1713.2 1089.6L1708.2 1089.3L1703.3 1089.0L1698.3 1088.8L1693.3 1088.5L1688.3 1088.3L1683.3 1088.0L1678.3 1087.7L1673.3 1087.4L1668.4 1087.2L1663.4 1086.9L1658.4 1086.6L1653.4 1086.3L1648.5 1086.0L1643.5 1085.7L1638.5 1085.4L1633.6 1085.1L1628.6 1084.7L1623.6 1084.4L1618.7 1084.1L1613.7 1083.8L1608.8 1083.4L1603.8 1083.1L1598.9 1082.7L1593.9 1082.4L1588.9 1082.0L1584.0 1081.7L1579.0 1081.3L1574.1 1080.9L1569.1 1080.5L1564.2 1080.1L1559.2 1079.7L1554.2 1079.3L1549.3 1078.9L1544.3 1078.5L1539.3 1078.1L1534.4 1077.7L1529.4 1077.2L1524.4 1076.8L1519.4 1076.3L1514.4 1075.9L1509.4 1075.4L1504.4 1074.9L1499.4 1074.4L1494.4 1073.9L1489.4 1073.4L1484.3 1072.9L1479.3 1072.4L1474.2 1071.9L1469.2 1071.3L1464.1 1070.8L1459.1 1070.2L1454.0 1069.7L1448.9 1069.1L1443.8 1068.5L1438.7 1067.9L1433.6 1067.3L1428.5 1066.7L1423.4 1066.0L1418.3 1065.3L1413.2 1064.5L1408.3 1063.6L1403.3 1062.6L1398.5 1061.5L1393.7 1060.2L1389.0 1058.8L1384.4 1057.2L1380.0 1055.4L1375.6 1053.4L1371.5 1051.2L1367.4 1048.7L1363.6 1045.9L1359.9 1042.9L1356.4 1039.7L1353.0 1036.2L1349.8 1032.5L1346.8 1028.7L1343.8 1024.6L1341.1 1020.5L1338.4 1016.2L1335.9 1011.8L1333.5 1007.3L1331.1 1002.8L1328.9 998.2L1326.8 993.6L1324.8 989.0L1322.8 984.3L1320.9 979.7L1319.1 975.0L1317.4 970.2L1315.8 965.5L1314.2 960.7L1312.6 956.0L1311.2 951.2L1309.7 946.3L1308.4 941.5L1307.0 936.7L1305.7 931.8L1304.5 927.0L1303.2 922.1L1302.0 917.2L1300.8 912.4L1299.7 907.5L1298.5 902.6L1297.3 897.7L1296.2 892.8L1295.1 888.0L1293.9 883.1L1292.8 878.2L1291.7 873.3L1290.6 868.4L1289.4 863.5L1288.3 858.7L1287.2 853.8L1286.1 848.9L1285.1 844.0L1284.0 839.1L1282.9 834.3L1281.8 829.4L1280.7 824.5L1279.7 819.6L1278.6 814.7L1277.5 809.9L1276.5 805.0L1275.4 800.1L1274.3 795.2L1273.3 790.3L1272.2 785.5L1271.2 780.6L1270.1 775.7L1269.0 770.8L1268.0 766.0L1266.9 761.1L1265.9 756.2L1264.8 751.3L1263.8 746.4L1262.7 741.6L1261.6 736.7L1260.6 731.8L1259.5 726.9L1258.4 722.1L1257.4 717.2L1256.3 712.3L1255.2 707.4L1254.2 702.5L1253.1 697.7L1252.0 692.8L1250.9 687.9L1249.8 683.0L1248.7 678.2L1247.6 673.3L1246.5 668.4L1245.4 663.5L1244.3 658.7L1243.2 653.8L1242.1 648.9L1240.9 644.0L1239.8 639.2L1238.6 634.3L1237.5 629.4L1236.3 624.6L1235.2 619.7L1234.0 614.8L1232.8 609.9L1231.6 605.1L1230.4 600.2L1229.2 595.3L1228.0 590.5L1226.8 585.6L1225.6 580.7L1224.3 575.8L1223.1 571.0L1221.8 566.1L1220.5 561.2L1219.2 556.4L1217.9 551.5L1216.5 546.7L1215.1 541.9L1213.7 537.1L1212.3 532.3L1210.8 527.5L1209.3 522.7L1207.7 517.9L1206.1 513.2L1204.5 508.5L1202.8 503.8L1201.0 499.1L1199.2 494.4L1197.4 489.8L1195.5 485.2L1193.5 480.6L1191.5 476.1L1189.4 471.6L1187.2 467.1L1185.0 462.6L1182.7 458.2L1180.3 453.8L1177.8 449.5L1175.3 445.2L1172.7 440.9L1170.0 436.7L1167.2 432.5L1164.3 428.4L1161.3 424.3L1158.3 420.3L1155.2 416.3L1152.0 412.5L1148.7 408.7L1145.3 405.0L1141.9 401.3L1138.4 397.8L1134.7 394.4L1131.1 391.0L1127.3 387.8L1123.5 384.7L1119.5 381.7L1115.5 378.8L1111.5 376.1L1107.3 373.4L1103.1 370.9L1098.9 368.4L1094.5 366.1L1090.2 363.8L1085.7 361.6L1081.2 359.6L1076.7 357.6L1072.1 355.6L1067.5 353.8L1062.8 352.0L1058.1 350.3L1053.4 348.6L1048.6 347.0L1043.8 345.5L1039.0 344.0L1034.1 342.5L1029.3 341.1L1024.4 339.8L1019.5 338.4L1014.6 337.1L1009.7 335.9L1004.7 334.6L999.8 333.4L994.9 332.2L990.0 331.0L985.1 329.8L980.2 328.6L975.3 327.5L970.4 326.3L965.5 325.2L960.6 324.0L955.7 322.9L950.8 321.8L945.9 320.7L941.0 319.6L936.1 318.5L931.2 317.4L926.3 316.4L921.4 315.3L916.5 314.2L911.6 313.2L906.8 312.1L901.9 311.1L897.0 310.0L892.1 308.9L887.2 307.9L882.4 306.8L877.5 305.8L872.6 304.7L867.8 303.7L862.9 302.6L858.0 301.6L853.1 300.5L848.3 299.4L843.4 298.4L838.6 297.3L833.7 296.2L828.8 295.1L824.0 294.0L819.1 292.9L814.2 291.8L809.4 290.7L804.5 289.5L799.7 288.4L794.8 287.2L789.9 286.1L785.1 284.9L780.2 283.7L775.4 282.5L770.5 281.3L765.7 280.0L760.8 278.8L756.0 277.5L751.1 276.2L746.3 275.0L741.5 273.6L736.6 272.3L731.8 271.0L727.0 269.6L722.1 268.2L717.3 266.9L712.5 265.4L707.7 264.0L702.9 262.6L698.1 261.1L693.3 259.6L688.6 258.1L683.8 256.6L679.0 255.0L674.3 253.5L669.5 251.9L664.8 250.2L660.0 248.6L655.3 246.9L650.6 245.3L645.9 243.6L641.2 241.8L636.5 240.1L631.9 238.3L627.2 236.5L622.5 234.7L617.9 232.8L613.3 230.9L608.7 229.0L604.1 227.1L599.5 225.1L594.9 223.1L590.4 221.1L585.8 219.1L581.3 217.0L576.8 214.9L572.3 212.7L567.8 210.6L563.3 208.4L558.9 206.1L554.4 203.9L550.0 201.6L545.6 199.3L541.2 196.9L536.8 194.5L532.5 192.1L528.2 189.6L523.8 187.2L519.5 184.6L515.3 182.1L511.0 179.5L506.8 176.8L502.6 174.2L498.4 171.5L494.2 168.7L490.0 166.0L485.9 163.1L481.8 160.3L477.7 157.4L473.6 154.5L469.6 151.5L465.6 148.5L461.6 145.4L457.6 142.4L453.6 139.3L449.7 136.1L445.7 133.0L441.8 129.9L437.9 126.7L433.9 123.6L429.9 120.5L426.0 117.4L422.0 114.4L417.9 111.4L413.9 108.4L409.8 105.5L405.7 102.6L401.6 99.8L397.4 97.0L393.1 94.4L388.9 91.8L384.5 89.3L380.1 86.9L375.7 84.5L371.3 82.3L366.8 80.1L362.3 77.9L357.7 75.8L353.1 73.8L348.5 71.8L343.9 69.8L339.3 67.9L334.7 66.0L330.0 64.2L325.4 62.4L320.7 60.6L316.1 58.9L311.4 57.1L306.8 55.4Z" fill="#ff0000" stroke="#ff0000" stroke-width="4.4" stroke-linejoin="round"/>
<path d="M307.1 52.1L310.0 52.1L314.3 54.8L318.5 57.5L322.7 60.3L326.7 63.2L330.8 66.1L334.7 69.2L338.6 72.3L342.5 75.4L346.3 78.6L350.0 81.9L353.7 85.2L357.3 88.6L360.9 92.0L364.5 95.5L368.0 99.0L371.5 102.5L374.9 106.1L378.4 109.7L381.8 113.3L385.1 117.0L388.5 120.7L391.8 124.5L395.1 128.2L398.4 132.0L401.7 135.7L404.9 139.5L408.2 143.3L411.5 147.1L414.7 151.0L418.0 154.8L421.2 158.6L424.5 162.4L427.8 166.2L431.1 170.0L434.4 173.8L437.7 177.5L441.0 181.3L444.3 185.0L447.7 188.7L451.1 192.4L454.5 196.1L457.9 199.8L461.3 203.5L464.7 207.1L468.2 210.8L471.7 214.4L475.1 218.0L478.6 221.6L482.2 225.1L485.7 228.7L489.2 232.2L492.8 235.7L496.4 239.2L500.0 242.7L503.6 246.2L507.2 249.6L510.8 253.0L514.5 256.4L518.2 259.8L521.8 263.2L525.6 266.6L529.3 269.9L533.0 273.2L536.8 276.5L540.5 279.8L544.3 283.0L548.1 286.3L551.9 289.5L555.8 292.7L559.6 295.8L563.5 299.0L567.4 302.1L571.3 305.2L575.2 308.3L579.1 311.4L583.1 314.4L587.1 317.4L591.1 320.4L595.1 323.4L599.1 326.4L603.1 329.3L607.2 332.2L611.2 335.1L615.3 337.9L619.4 340.8L623.6 343.6L627.7 346.3L631.9 349.1L636.0 351.8L640.2 354.5L644.4 357.2L648.7 359.9L652.9 362.5L657.2 365.1L661.5 367.7L665.8 370.3L670.1 372.8L674.4 375.3L678.7 377.8L683.1 380.2L687.4 382.7L691.8 385.1L696.2 387.5L700.6 389.8L705.1 392.1L709.5 394.4L714.0 396.7L718.4 399.0L722.9 401.2L727.4 403.4L731.9 405.6L736.4 407.8L741.0 409.9L745.5 412.0L750.1 414.1L754.6 416.2L759.2 418.2L763.8 420.2L768.4 422.2L773.0 424.2L777.6 426.1L782.2 428.0L786.9 429.9L791.5 431.8L796.2 433.6L800.8 435.4L805.5 437.2L810.2 439.0L814.9 440.7L819.6 442.4L824.3 444.1L829.0 445.8L833.8 447.4L838.5 449.1L843.2 450.7L848.0 452.2L852.7 453.8L857.5 455.3L862.2 456.8L867.0 458.3L871.8 459.8L876.6 461.3L881.3 462.7L886.1 464.2L890.9 465.6L895.7 467.0L900.5 468.4L905.3 469.8L910.1 471.2L914.9 472.5L919.7 473.9L924.6 475.3L929.4 476.6L934.2 478.0L939.0 479.3L943.8 480.7L948.6 482.0L953.5 483.3L958.3 484.7L963.1 486.0L967.9 487.4L972.7 488.7L977.5 490.1L982.3 491.5L987.1 492.8L991.9 494.2L996.7 495.6L1001.5 497.0L1006.3 498.4L1011.1 499.8L1015.9 501.3L1020.7 502.7L1025.5 504.2L1030.3 505.6L1035.0 507.1L1039.8 508.7L1044.6 510.2L1049.3 511.7L1054.1 513.3L1058.8 514.9L1063.5 516.5L1068.2 518.2L1073.0 519.8L1077.7 521.5L1082.4 523.2L1087.1 525.0L1091.8 526.7L1096.4 528.5L1101.1 530.4L1105.7 532.3L1110.4 534.2L1115.0 536.1L1119.5 538.1L1124.1 540.2L1128.6 542.3L1133.1 544.5L1137.6 546.7L1142.0 549.0L1146.3 551.4L1150.7 553.9L1154.9 556.4L1159.2 559.0L1163.3 561.7L1167.4 564.5L1171.5 567.4L1175.5 570.4L1179.4 573.4L1183.3 576.6L1187.1 579.8L1190.9 583.0L1194.6 586.4L1198.3 589.8L1201.9 593.2L1205.5 596.7L1209.0 600.3L1212.5 603.9L1216.0 607.5L1219.4 611.2L1222.7 614.9L1226.1 618.6L1229.4 622.4L1232.6 626.2L1235.9 630.0L1239.1 633.8L1242.2 637.7L1245.4 641.6L1248.5 645.5L1251.7 649.4L1254.8 653.3L1257.9 657.3L1260.9 661.3L1264.0 665.3L1267.1 669.4L1270.1 673.4L1273.2 677.5L1276.2 681.5L1279.3 685.6L1282.4 689.6L1285.5 693.6L1288.6 697.6L1291.8 701.5L1295.0 705.4L1298.3 709.2L1301.6 713.0L1305.0 716.7L1308.4 720.3L1311.9 723.8L1315.5 727.2L1319.1 730.5L1322.9 733.7L1326.7 736.8L1330.6 739.8L1334.7 742.6L1338.7 745.3L1342.9 747.9L1347.1 750.4L1351.5 752.7L1355.9 754.9L1360.3 757.0L1364.8 758.9L1369.4 760.8L1374.1 762.4L1378.8 764.0L1383.5 765.4L1388.3 766.7L1393.1 767.9L1398.0 769.0L1402.9 770.0L1407.9 770.9L1412.9 771.7L1417.8 772.4L1422.8 773.2L1427.8 773.8L1432.8 774.5L1437.8 775.1L1442.8 775.7L1447.8 776.3L1452.8 776.9L1457.8 777.4L1462.8 778.0L1467.8 778.5L1472.8 779.0L1477.8 779.6L1482.8 780.1L1487.8 780.5L1492.7 781.0L1497.7 781.5L1502.7 782.0L1507.7 782.4L1512.7 782.9L1517.7 783.3L1522.6 783.8L1527.6 784.3L1532.6 784.7L1537.6 785.1L1542.6 785.6L1547.5 786.0L1552.5 786.5L1557.5 786.9L1562.5 787.3L1567.4 787.8L1572.4 788.2L1577.4 788.6L1582.4 789.0L1587.4 789.5L1592.3 789.9L1597.3 790.3L1602.3 790.7L1607.3 791.1L1612.3 791.5L1617.2 791.9L1622.2 792.3L1627.2 792.7L1632.2 793.1L1637.1 793.5L1642.1 793.9L1647.1 794.3L1652.1 794.7L1657.1 795.1L1662.0 795.5L1667.0 795.8L1672.0 796.2L1677.0 796.6L1682.0 797.0L1687.0 797.3L1691.9 797.7L1696.9 798.1L1701.9 798.4L1706.9 798.8L1711.9 799.1L1716.9 799.5L1721.8 799.8L1726.8 800.2L1731.8 800.5L1736.8 800.8L1741.8 801.2L1746.8 801.5L1751.8 801.8L1756.8 802.2L1761.7 802.5L1766.7 802.8L1771.7 803.1L1776.7 803.4L1781.7 803.7L1786.7 804.1L1791.7 804.4L1796.7 804.7L1801.7 805.0L1806.7 805.3L1811.7 805.6L1816.7 805.9L1821.7 806.1L1826.6 806.4L1831.6 806.7L1836.6 807.0L1841.6 807.3L1846.6 807.6L1851.6 807.9L1856.6 808.1L1861.6 808.4L1866.6 808.7L1871.6 808.9L1876.6 809.2L1881.6 809.5L1886.6 809.7L1891.6 810.0L1896.6 810.3L1901.6 810.5L1906.6 810.8L1911.6 811.0L1916.6 811.3L1921.6 811.6L1926.6 811.8L1931.6 812.1L1936.6 812.3L1941.6 812.6L1946.6 812.8L1951.6 813.0L1956.6 813.3L1961.6 813.5L1966.6 813.8L1971.6 814.0L1976.6 814.3L1981.6 814.5L1986.6 814.7L1991.5 815.0L1996.5 815.2L2001.5 815.4L2006.5 815.7L2011.5 815.9L2016.5 816.1L2021.5 816.4L2026.5 816.6L2031.5 816.8L2036.5 817.1L2041.5 817.3L2046.5 817.5L2051.5 817.7L2056.5 818.0L2061.4 818.2L2066.4 818.4L2071.4 818.6L2071.4 821.5L2068.5 821.5L2063.5 821.3L2058.5 821.1L2053.6 820.9L2048.6 820.6L2043.6 820.4L2038.6 820.2L2033.6 820.0L2028.6 819.7L2023.6 819.5L2018.6 819.3L2013.6 819.0L2008.6 818.8L2003.6 818.6L1998.6 818.3L1993.6 818.1L1988.6 817.9L1983.7 817.6L1978.7 817.4L1973.7 817.2L1968.7 816.9L1963.7 816.7L1958.7 816.4L1953.7 816.2L1948.7 815.9L1943.7 815.7L1938.7 815.5L1933.7 815.2L1928.7 815.0L1923.7 814.7L1918.7 814.5L1913.7 814.2L1908.7 813.9L1903.7 813.7L1898.7 813.4L1893.7 813.2L1888.7 812.9L1883.7 812.6L1878.7 812.4L1873.7 812.1L1868.7 811.8L1863.7 811.6L1858.7 811.3L1853.7 811.0L1848.7 810.8L1843.7 810.5L1838.7 810.2L1833.7 809.9L1828.7 809.6L1823.7 809.3L1818.8 809.0L1813.8 808.8L1808.8 808.5L1803.8 808.2L1798.8 807.9L1793.8 807.6L1788.8 807.3L1783.8 807.0L1778.8 806.6L1773.8 806.3L1768.8 806.0L1763.8 805.7L1758.8 805.4L1753.9 805.1L1748.9 804.7L1743.9 804.4L1738.9 804.1L1733.9 803.7L1728.9 803.4L1723.9 803.1L1718.9 802.7L1714.0 802.4L1709.0 802.0L1704.0 801.7L1699.0 801.3L1694.0 801.0L1689.0 800.6L1684.1 800.2L1679.1 799.9L1674.1 799.5L1669.1 799.1L1664.1 798.7L1659.1 798.4L1654.2 798.0L1649.2 797.6L1644.2 797.2L1639.2 796.8L1634.2 796.4L1629.3 796.0L1624.3 795.6L1619.3 795.2L1614.3 794.8L1609.4 794.4L1604.4 794.0L1599.4 793.6L1594.4 793.2L1589.4 792.8L1584.5 792.4L1579.5 791.9L1574.5 791.5L1569.5 791.1L1564.5 790.7L1559.6 790.2L1554.6 789.8L1549.6 789.4L1544.6 788.9L1539.7 788.5L1534.7 788.0L1529.7 787.6L1524.7 787.2L1519.7 786.7L1514.8 786.2L1509.8 785.8L1504.8 785.3L1499.8 784.9L1494.8 784.4L1489.8 783.9L1484.9 783.4L1479.9 783.0L1474.9 782.5L1469.9 781.9L1464.9 781.4L1459.9 780.9L1454.9 780.3L1449.9 779.8L1444.9 779.2L1439.9 778.6L1434.9 778.0L1429.9 777.4L1424.9 776.7L1419.9 776.1L1414.9 775.3L1410.0 774.6L1405.0 773.8L1400.0 772.9L1395.1 771.9L1390.2 770.8L1385.4 769.6L1380.6 768.3L1375.9 766.9L1371.2 765.3L1366.5 763.7L1361.9 761.8L1357.4 759.9L1353.0 757.8L1348.6 755.6L1344.2 753.3L1340.0 750.8L1335.8 748.2L1331.8 745.5L1327.7 742.7L1323.8 739.7L1320.0 736.6L1316.2 733.4L1312.6 730.1L1309.0 726.7L1305.5 723.2L1302.1 719.6L1298.7 715.9L1295.4 712.1L1292.1 708.3L1288.9 704.4L1285.7 700.5L1282.6 696.5L1279.5 692.5L1276.4 688.5L1273.3 684.4L1270.3 680.4L1267.2 676.3L1264.2 672.3L1261.1 668.2L1258.0 664.2L1255.0 660.2L1251.9 656.2L1248.8 652.3L1245.6 648.4L1242.5 644.5L1239.3 640.6L1236.2 636.7L1233.0 632.9L1229.7 629.1L1226.5 625.3L1223.2 621.5L1219.8 617.8L1216.5 614.1L1213.1 610.4L1209.6 606.8L1206.1 603.2L1202.6 599.6L1199.0 596.1L1195.4 592.7L1191.7 589.3L1188.0 585.9L1184.2 582.7L1180.4 579.5L1176.5 576.3L1172.6 573.3L1168.6 570.3L1164.5 567.4L1160.4 564.6L1156.3 561.9L1152.0 559.3L1147.8 556.8L1143.4 554.3L1139.1 551.9L1134.7 549.6L1130.2 547.4L1125.7 545.2L1121.2 543.1L1116.6 541.0L1112.1 539.0L1107.5 537.1L1102.8 535.2L1098.2 533.3L1093.5 531.4L1088.9 529.6L1084.2 527.9L1079.5 526.1L1074.8 524.4L1070.1 522.7L1065.3 521.1L1060.6 519.4L1055.9 517.8L1051.2 516.2L1046.4 514.6L1041.7 513.1L1036.9 511.6L1032.1 510.0L1027.4 508.5L1022.6 507.1L1017.8 505.6L1013.0 504.2L1008.2 502.7L1003.4 501.3L998.6 499.9L993.8 498.5L989.0 497.1L984.2 495.7L979.4 494.4L974.6 493.0L969.8 491.6L965.0 490.3L960.2 488.9L955.4 487.6L950.6 486.2L945.7 484.9L940.9 483.6L936.1 482.2L931.3 480.9L926.5 479.5L921.7 478.2L916.8 476.8L912.0 475.4L907.2 474.1L902.4 472.7L897.6 471.3L892.8 469.9L888.0 468.5L883.2 467.1L878.4 465.6L873.7 464.2L868.9 462.7L864.1 461.2L859.3 459.7L854.6 458.2L849.8 456.7L845.1 455.1L840.3 453.6L835.6 452.0L830.9 450.3L826.1 448.7L821.4 447.0L816.7 445.3L812.0 443.6L807.3 441.9L802.6 440.1L797.9 438.3L793.3 436.5L788.6 434.7L784.0 432.8L779.3 430.9L774.7 429.0L770.1 427.1L765.5 425.1L760.9 423.1L756.3 421.1L751.7 419.1L747.2 417.0L742.6 414.9L738.1 412.8L733.5 410.7L729.0 408.5L724.5 406.3L720.0 404.1L715.5 401.9L711.1 399.6L706.6 397.3L702.2 395.0L697.7 392.7L693.3 390.4L688.9 388.0L684.5 385.6L680.2 383.1L675.8 380.7L671.5 378.2L667.2 375.7L662.9 373.2L658.6 370.6L654.3 368.0L650.0 365.4L645.8 362.8L641.5 360.1L637.3 357.4L633.1 354.7L629.0 352.0L624.8 349.2L620.7 346.5L616.5 343.7L612.4 340.8L608.3 338.0L604.3 335.1L600.2 332.2L596.2 329.3L592.2 326.3L588.2 323.3L584.2 320.3L580.2 317.3L576.2 314.3L572.3 311.2L568.4 308.1L564.5 305.0L560.6 301.9L556.7 298.7L552.9 295.6L549.0 292.4L545.2 289.2L541.4 285.9L537.6 282.7L533.9 279.4L530.1 276.1L526.4 272.8L522.7 269.5L518.9 266.1L515.3 262.7L511.6 259.3L507.9 255.9L504.3 252.5L500.7 249.1L497.1 245.6L493.5 242.1L489.9 238.6L486.3 235.1L482.8 231.6L479.3 228.0L475.7 224.5L472.2 220.9L468.8 217.3L465.3 213.7L461.8 210.0L458.4 206.4L455.0 202.7L451.6 199.0L448.2 195.3L444.8 191.6L441.4 187.9L438.1 184.2L434.8 180.4L431.5 176.7L428.2 172.9L424.9 169.1L421.6 165.3L418.3 161.5L415.1 157.7L411.8 153.9L408.6 150.0L405.3 146.2L402.0 142.4L398.8 138.6L395.5 134.9L392.2 131.1L388.9 127.4L385.6 123.6L382.2 119.9L378.9 116.2L375.5 112.6L372.0 109.0L368.6 105.4L365.1 101.9L361.6 98.4L358.0 94.9L354.4 91.5L350.8 88.1L347.1 84.8L343.4 81.5L339.6 78.3L335.7 75.2L331.8 72.1L327.9 69.0L323.8 66.1L319.8 63.2L315.6 60.4L311.4 57.7L307.1 55.0Z" fill="#0000ff" stroke="#0000ff" stroke-width="4.4" stroke-linejoin="round"/>
<path d="M306.6 53.2L309.5 53.2L314.2 55.6L318.6 58.1L323.0 60.8L327.1 63.7L331.1 66.7L335.0 69.8L338.8 73.0L342.4 76.4L346.0 79.9L349.4 83.4L352.7 87.1L355.9 90.9L359.0 94.7L362.1 98.6L365.1 102.6L368.0 106.7L370.9 110.8L373.7 114.9L376.5 119.1L379.2 123.3L381.9 127.6L384.6 131.8L387.3 136.1L390.0 140.3L392.7 144.6L395.4 148.8L398.1 153.1L400.9 157.3L403.6 161.5L406.4 165.6L409.2 169.8L412.0 173.9L414.8 178.0L417.6 182.2L420.4 186.3L423.2 190.4L426.0 194.5L428.8 198.7L431.6 202.8L434.4 207.0L437.2 211.1L439.9 215.3L442.7 219.5L445.5 223.7L448.2 227.9L451.0 232.1L453.7 236.3L456.5 240.5L459.2 244.7L462.0 248.9L464.8 253.1L467.5 257.3L470.3 261.5L473.1 265.6L475.9 269.8L478.7 274.0L481.6 278.1L484.4 282.2L487.3 286.4L490.2 290.4L493.1 294.5L496.0 298.6L499.0 302.6L502.0 306.6L505.0 310.6L508.1 314.6L511.1 318.5L514.2 322.4L517.4 326.3L520.6 330.2L523.7 334.0L527.0 337.8L530.2 341.6L533.5 345.3L536.8 349.1L540.1 352.8L543.5 356.5L546.9 360.1L550.3 363.8L553.7 367.4L557.2 371.0L560.6 374.5L564.1 378.1L567.7 381.6L571.2 385.1L574.8 388.6L578.4 392.1L582.0 395.5L585.6 399.0L589.3 402.4L593.0 405.8L596.7 409.1L600.4 412.5L604.1 415.8L607.9 419.1L611.6 422.4L615.4 425.7L619.2 429.0L623.1 432.2L626.9 435.4L630.8 438.6L634.6 441.8L638.5 445.0L642.4 448.2L646.3 451.3L650.3 454.4L654.2 457.6L658.2 460.6L662.2 463.7L666.2 466.8L670.2 469.8L674.2 472.8L678.2 475.8L682.3 478.8L686.3 481.8L690.4 484.7L694.5 487.7L698.6 490.6L702.7 493.5L706.8 496.3L711.0 499.2L715.1 502.0L719.3 504.8L723.5 507.6L727.6 510.4L731.8 513.2L736.0 515.9L740.3 518.6L744.5 521.3L748.7 524.0L753.0 526.6L757.2 529.3L761.5 531.9L765.8 534.5L770.1 537.0L774.4 539.6L778.7 542.1L783.1 544.6L787.4 547.1L791.8 549.5L796.1 552.0L800.5 554.4L804.9 556.8L809.3 559.1L813.7 561.5L818.2 563.8L822.6 566.1L827.0 568.4L831.5 570.6L836.0 572.8L840.5 575.0L845.0 577.2L849.5 579.4L854.0 581.5L858.5 583.6L863.1 585.7L867.6 587.7L872.2 589.7L876.8 591.7L881.4 593.7L886.0 595.7L890.6 597.6L895.2 599.5L899.9 601.4L904.5 603.2L909.2 605.0L913.8 606.8L918.5 608.6L923.2 610.3L927.9 612.0L932.7 613.7L937.4 615.3L942.1 617.0L946.9 618.5L951.7 620.1L956.5 621.7L961.2 623.2L966.0 624.7L970.8 626.2L975.7 627.6L980.5 629.1L985.3 630.5L990.1 631.9L995.0 633.3L999.8 634.7L1004.7 636.0L1009.5 637.4L1014.3 638.8L1019.2 640.1L1024.0 641.5L1028.9 642.8L1033.7 644.2L1038.6 645.5L1043.4 646.9L1048.2 648.2L1053.1 649.6L1057.9 651.0L1062.7 652.3L1067.5 653.7L1072.3 655.1L1077.2 656.4L1082.0 657.8L1086.8 659.2L1091.6 660.6L1096.4 661.9L1101.2 663.3L1106.0 664.7L1110.8 666.1L1115.6 667.5L1120.4 668.9L1125.2 670.3L1130.0 671.8L1134.8 673.2L1139.6 674.6L1144.4 676.0L1149.1 677.4L1153.9 678.9L1158.7 680.3L1163.5 681.7L1168.3 683.2L1173.1 684.6L1177.9 686.1L1182.7 687.5L1187.5 689.0L1192.3 690.5L1197.1 691.9L1201.9 693.4L1206.7 694.9L1211.5 696.3L1216.3 697.8L1221.1 699.2L1225.9 700.7L1230.8 702.1L1235.6 703.5L1240.4 704.9L1245.2 706.3L1250.1 707.7L1254.9 709.1L1259.7 710.5L1264.6 711.8L1269.4 713.1L1274.2 714.4L1279.1 715.7L1284.0 716.9L1288.8 718.2L1293.7 719.4L1298.6 720.6L1303.4 721.7L1308.3 722.8L1313.2 723.9L1318.1 725.0L1323.0 726.0L1327.9 727.0L1332.8 727.9L1337.7 728.8L1342.7 729.7L1347.6 730.5L1352.5 731.4L1357.5 732.1L1362.4 732.9L1367.4 733.6L1372.3 734.3L1377.3 735.0L1382.2 735.6L1387.2 736.3L1392.2 736.9L1397.2 737.5L1402.1 738.1L1407.1 738.6L1412.1 739.2L1417.1 739.8L1422.0 740.3L1427.0 740.8L1432.0 741.4L1437.0 741.9L1442.0 742.4L1447.0 743.0L1451.9 743.5L1456.9 744.0L1461.9 744.5L1466.9 745.0L1471.9 745.5L1476.9 746.0L1481.9 746.5L1486.8 747.0L1491.8 747.5L1496.8 748.0L1501.8 748.5L1506.8 749.0L1511.8 749.5L1516.8 750.0L1521.8 750.5L1526.7 751.0L1531.7 751.5L1536.7 751.9L1541.7 752.4L1546.7 752.9L1551.7 753.4L1556.7 753.8L1561.7 754.3L1566.7 754.8L1571.7 755.2L1576.6 755.7L1581.6 756.1L1586.6 756.6L1591.6 757.1L1596.6 757.5L1601.6 758.0L1606.6 758.4L1611.6 758.9L1616.6 759.3L1621.6 759.7L1626.6 760.2L1631.6 760.6L1636.6 761.1L1641.5 761.5L1646.5 761.9L1651.5 762.4L1656.5 762.8L1661.5 763.2L1666.5 763.7L1671.5 764.1L1676.5 764.5L1681.5 764.9L1686.5 765.4L1691.5 765.8L1696.5 766.2L1701.5 766.6L1706.5 767.0L1711.5 767.5L1716.5 767.9L1721.5 768.3L1726.5 768.7L1731.5 769.1L1736.4 769.5L1741.4 769.9L1746.4 770.3L1751.4 770.7L1756.4 771.1L1761.4 771.5L1766.4 772.0L1771.4 772.4L1776.4 772.8L1781.4 773.2L1786.4 773.6L1791.4 774.0L1796.4 774.4L1801.4 774.8L1806.4 775.1L1811.4 775.5L1816.4 775.9L1821.4 776.3L1826.4 776.7L1831.4 777.1L1836.4 777.5L1841.4 777.9L1846.4 778.3L1851.4 778.7L1856.4 779.0L1861.4 779.4L1866.4 779.8L1871.4 780.2L1876.4 780.5L1881.4 780.9L1886.4 781.3L1891.4 781.7L1896.3 782.0L1901.3 782.4L1906.3 782.7L1911.3 783.1L1916.3 783.5L1921.3 783.8L1926.3 784.2L1931.3 784.5L1936.3 784.8L1941.3 785.2L1946.3 785.5L1951.3 785.8L1956.3 786.2L1961.3 786.5L1966.4 786.8L1971.4 787.1L1976.4 787.5L1981.4 787.8L1986.4 788.1L1991.4 788.4L1996.4 788.7L2001.4 789.0L2006.4 789.3L2011.4 789.5L2016.4 789.8L2021.4 790.1L2026.4 790.4L2031.4 790.6L2036.4 790.9L2041.4 791.2L2046.4 791.4L2051.4 791.7L2056.4 791.9L2061.4 792.2L2066.4 792.4L2071.5 792.6L2071.5 795.5L2068.6 795.5L2063.5 795.3L2058.5 795.1L2053.5 794.8L2048.5 794.6L2043.5 794.3L2038.5 794.1L2033.5 793.8L2028.5 793.5L2023.5 793.3L2018.5 793.0L2013.5 792.7L2008.5 792.4L2003.5 792.2L1998.5 791.9L1993.5 791.6L1988.5 791.3L1983.5 791.0L1978.5 790.7L1973.5 790.4L1968.5 790.0L1963.5 789.7L1958.4 789.4L1953.4 789.1L1948.4 788.7L1943.4 788.4L1938.4 788.1L1933.4 787.7L1928.4 787.4L1923.4 787.1L1918.4 786.7L1913.4 786.4L1908.4 786.0L1903.4 785.6L1898.4 785.3L1893.4 784.9L1888.5 784.6L1883.5 784.2L1878.5 783.8L1873.5 783.4L1868.5 783.1L1863.5 782.7L1858.5 782.3L1853.5 781.9L1848.5 781.6L1843.5 781.2L1838.5 780.8L1833.5 780.4L1828.5 780.0L1823.5 779.6L1818.5 779.2L1813.5 778.8L1808.5 778.4L1803.5 778.0L1798.5 777.7L1793.5 777.3L1788.5 776.9L1783.5 776.5L1778.5 776.1L1773.5 775.7L1768.5 775.3L1763.5 774.9L1758.5 774.4L1753.5 774.0L1748.5 773.6L1743.5 773.2L1738.5 772.8L1733.5 772.4L1728.6 772.0L1723.6 771.6L1718.6 771.2L1713.6 770.8L1708.6 770.4L1703.6 769.9L1698.6 769.5L1693.6 769.1L1688.6 768.7L1683.6 768.3L1678.6 767.8L1673.6 767.4L1668.6 767.0L1663.6 766.6L1658.6 766.1L1653.6 765.7L1648.6 765.3L1643.6 764.8L1638.6 764.4L1633.7 764.0L1628.7 763.5L1623.7 763.1L1618.7 762.6L1613.7 762.2L1608.7 761.8L1603.7 761.3L1598.7 760.9L1593.7 760.4L1588.7 760.0L1583.7 759.5L1578.7 759.0L1573.7 758.6L1568.8 758.1L1563.8 757.7L1558.8 757.2L1553.8 756.7L1548.8 756.3L1543.8 755.8L1538.8 755.3L1533.8 754.8L1528.8 754.4L1523.8 753.9L1518.9 753.4L1513.9 752.9L1508.9 752.4L1503.9 751.9L1498.9 751.4L1493.9 750.9L1488.9 750.4L1483.9 749.9L1479.0 749.4L1474.0 748.9L1469.0 748.4L1464.0 747.9L1459.0 747.4L1454.0 746.9L1449.0 746.4L1444.1 745.9L1439.1 745.3L1434.1 744.8L1429.1 744.3L1424.1 743.7L1419.1 743.2L1414.2 742.7L1409.2 742.1L1404.2 741.5L1399.2 741.0L1394.3 740.4L1389.3 739.8L1384.3 739.2L1379.3 738.5L1374.4 737.9L1369.4 737.2L1364.5 736.5L1359.5 735.8L1354.6 735.0L1349.6 734.3L1344.7 733.4L1339.8 732.6L1334.8 731.7L1329.9 730.8L1325.0 729.9L1320.1 728.9L1315.2 727.9L1310.3 726.8L1305.4 725.7L1300.5 724.6L1295.7 723.5L1290.8 722.3L1285.9 721.1L1281.1 719.8L1276.2 718.6L1271.3 717.3L1266.5 716.0L1261.7 714.7L1256.8 713.4L1252.0 712.0L1247.2 710.6L1242.3 709.2L1237.5 707.8L1232.7 706.4L1227.9 705.0L1223.0 703.6L1218.2 702.1L1213.4 700.7L1208.6 699.2L1203.8 697.8L1199.0 696.3L1194.2 694.8L1189.4 693.4L1184.6 691.9L1179.8 690.4L1175.0 689.0L1170.2 687.5L1165.4 686.1L1160.6 684.6L1155.8 683.2L1151.0 681.8L1146.2 680.3L1141.5 678.9L1136.7 677.5L1131.9 676.1L1127.1 674.7L1122.3 673.2L1117.5 671.8L1112.7 670.4L1107.9 669.0L1103.1 667.6L1098.3 666.2L1093.5 664.8L1088.7 663.5L1083.9 662.1L1079.1 660.7L1074.3 659.3L1069.4 658.0L1064.6 656.6L1059.8 655.2L1055.0 653.9L1050.2 652.5L1045.3 651.1L1040.5 649.8L1035.7 648.4L1030.8 647.1L1026.0 645.7L1021.1 644.4L1016.3 643.0L1011.4 641.7L1006.6 640.3L1001.8 638.9L996.9 637.6L992.1 636.2L987.2 634.8L982.4 633.4L977.6 632.0L972.8 630.5L967.9 629.1L963.1 627.6L958.3 626.1L953.6 624.6L948.8 623.0L944.0 621.4L939.2 619.9L934.5 618.2L929.8 616.6L925.0 614.9L920.3 613.2L915.6 611.5L910.9 609.7L906.3 607.9L901.6 606.1L897.0 604.3L892.3 602.4L887.7 600.5L883.1 598.6L878.5 596.6L873.9 594.6L869.3 592.6L864.7 590.6L860.2 588.6L855.6 586.5L851.1 584.4L846.6 582.3L842.1 580.1L837.6 577.9L833.1 575.7L828.6 573.5L824.1 571.3L819.7 569.0L815.3 566.7L810.8 564.4L806.4 562.0L802.0 559.7L797.6 557.3L793.2 554.9L788.9 552.4L784.5 550.0L780.2 547.5L775.8 545.0L771.5 542.5L767.2 539.9L762.9 537.4L758.6 534.8L754.3 532.2L750.1 529.5L745.8 526.9L741.6 524.2L737.4 521.5L733.1 518.8L728.9 516.1L724.7 513.3L720.6 510.5L716.4 507.7L712.2 504.9L708.1 502.1L703.9 499.2L699.8 496.4L695.7 493.5L691.6 490.6L687.5 487.6L683.4 484.7L679.4 481.7L675.3 478.7L671.3 475.7L667.3 472.7L663.3 469.7L659.3 466.6L655.3 463.5L651.3 460.5L647.4 457.3L643.4 454.2L639.5 451.1L635.6 447.9L631.7 444.7L627.9 441.5L624.0 438.3L620.2 435.1L616.3 431.9L612.5 428.6L608.7 425.3L605.0 422.0L601.2 418.7L597.5 415.4L593.8 412.0L590.1 408.7L586.4 405.3L582.7 401.9L579.1 398.4L575.5 395.0L571.9 391.5L568.3 388.0L564.8 384.5L561.2 381.0L557.7 377.4L554.3 373.9L550.8 370.3L547.4 366.7L544.0 363.0L540.6 359.4L537.2 355.7L533.9 352.0L530.6 348.2L527.3 344.5L524.1 340.7L520.8 336.9L517.7 333.1L514.5 329.2L511.3 325.3L508.2 321.4L505.2 317.5L502.1 313.5L499.1 309.5L496.1 305.5L493.1 301.5L490.2 297.4L487.3 293.3L484.4 289.3L481.5 285.1L478.7 281.0L475.8 276.9L473.0 272.7L470.2 268.5L467.4 264.4L464.6 260.2L461.9 256.0L459.1 251.8L456.3 247.6L453.6 243.4L450.8 239.2L448.1 235.0L445.3 230.8L442.6 226.6L439.8 222.4L437.0 218.2L434.3 214.0L431.5 209.9L428.7 205.7L425.9 201.6L423.1 197.4L420.3 193.3L417.5 189.2L414.7 185.1L411.9 180.9L409.1 176.8L406.3 172.7L403.5 168.5L400.7 164.4L398.0 160.2L395.2 156.0L392.5 151.7L389.8 147.5L387.1 143.2L384.4 139.0L381.7 134.7L379.0 130.5L376.3 126.2L373.6 122.0L370.8 117.8L368.0 113.7L365.1 109.6L362.2 105.5L359.2 101.5L356.1 97.6L353.0 93.8L349.8 90.0L346.5 86.3L343.1 82.8L339.5 79.3L335.9 75.9L332.1 72.7L328.2 69.6L324.2 66.6L320.1 63.7L315.7 61.0L311.3 58.5L306.6 56.1Z" fill="#ff00ff" stroke="#ff00ff" stroke-width="4.4" stroke-linejoin="round"/>
<path d="M305.5 52.4L308.4 52.4L312.0 55.9L315.5 59.6L318.9 63.2L322.4 66.9L325.7 70.6L329.1 74.3L332.4 78.1L335.6 81.9L338.9 85.7L342.1 89.5L345.2 93.4L348.4 97.3L351.5 101.2L354.6 105.1L357.6 109.1L360.6 113.0L363.6 117.0L366.6 121.0L369.5 125.1L372.5 129.1L375.4 133.2L378.3 137.2L381.2 141.3L384.0 145.4L386.8 149.5L389.7 153.7L392.5 157.8L395.3 161.9L398.1 166.1L400.9 170.3L403.6 174.4L406.4 178.6L409.2 182.8L411.9 187.0L414.7 191.2L417.4 195.4L420.2 199.5L422.9 203.7L425.6 208.0L428.4 212.2L431.1 216.4L433.9 220.6L436.6 224.8L439.4 228.9L442.1 233.1L444.9 237.3L447.6 241.5L450.4 245.7L453.2 249.9L456.0 254.0L458.8 258.2L461.6 262.3L464.4 266.5L467.2 270.6L470.1 274.7L472.9 278.8L475.8 282.9L478.7 287.0L481.6 291.0L484.6 295.1L487.5 299.1L490.5 303.1L493.4 307.1L496.5 311.1L499.5 315.1L502.5 319.0L505.6 323.0L508.7 326.9L511.8 330.7L515.0 334.6L518.2 338.4L521.4 342.3L524.6 346.1L527.9 349.8L531.1 353.6L534.4 357.3L537.7 361.1L541.1 364.8L544.4 368.5L547.8 372.1L551.2 375.8L554.6 379.4L558.1 383.0L561.6 386.6L565.0 390.2L568.5 393.7L572.1 397.3L575.6 400.8L579.2 404.3L582.7 407.8L586.3 411.3L589.9 414.7L593.6 418.2L597.2 421.6L600.9 425.0L604.6 428.4L608.2 431.8L611.9 435.2L615.7 438.6L619.4 441.9L623.1 445.2L626.9 448.6L630.7 451.9L634.5 455.2L638.3 458.5L642.1 461.7L645.9 465.0L649.7 468.2L653.6 471.5L657.4 474.7L661.3 477.9L665.2 481.1L669.0 484.3L672.9 487.5L676.8 490.7L680.7 493.8L684.7 497.0L688.6 500.1L692.5 503.3L696.5 506.4L700.4 509.5L704.4 512.6L708.3 515.7L712.3 518.8L716.2 521.9L720.2 525.0L724.2 528.1L728.2 531.2L732.2 534.2L736.2 537.3L740.1 540.3L744.2 543.3L748.2 546.4L752.2 549.4L756.2 552.4L760.2 555.4L764.3 558.3L768.3 561.3L772.4 564.3L776.4 567.2L780.5 570.1L784.6 573.1L788.6 576.0L792.7 578.9L796.8 581.7L800.9 584.6L805.0 587.4L809.2 590.3L813.3 593.1L817.4 595.9L821.6 598.7L825.7 601.4L829.9 604.2L834.1 606.9L838.3 609.6L842.5 612.3L846.7 615.0L850.9 617.7L855.1 620.3L859.4 622.9L863.6 625.5L867.9 628.1L872.2 630.6L876.5 633.2L880.8 635.7L885.1 638.2L889.4 640.7L893.7 643.1L898.1 645.5L902.5 647.9L906.8 650.3L911.2 652.6L915.6 655.0L920.1 657.3L924.5 659.5L928.9 661.8L933.4 664.0L937.9 666.2L942.4 668.4L946.9 670.5L951.4 672.6L955.9 674.7L960.5 676.8L965.0 678.8L969.6 680.8L974.2 682.8L978.8 684.8L983.4 686.7L988.0 688.6L992.7 690.5L997.3 692.4L1002.0 694.2L1006.6 696.1L1011.3 697.9L1016.0 699.7L1020.7 701.4L1025.4 703.2L1030.1 704.9L1034.8 706.6L1039.6 708.3L1044.3 710.0L1049.1 711.7L1053.8 713.3L1058.6 714.9L1063.3 716.5L1068.1 718.1L1072.9 719.7L1077.7 721.3L1082.5 722.8L1087.3 724.4L1092.1 725.9L1096.9 727.4L1101.7 728.9L1106.5 730.4L1111.3 731.9L1116.1 733.4L1120.9 734.8L1125.8 736.3L1130.6 737.7L1135.4 739.1L1140.2 740.6L1145.1 742.0L1149.9 743.4L1154.7 744.8L1159.5 746.2L1164.4 747.6L1169.2 749.0L1174.0 750.3L1178.8 751.7L1183.7 753.1L1188.5 754.4L1193.3 755.8L1198.1 757.2L1202.9 758.5L1207.7 759.8L1212.6 761.2L1217.4 762.5L1222.2 763.8L1227.0 765.1L1231.8 766.4L1236.6 767.7L1241.5 768.9L1246.3 770.2L1251.1 771.4L1256.0 772.6L1260.8 773.8L1265.6 775.0L1270.5 776.1L1275.3 777.2L1280.2 778.3L1285.0 779.4L1289.9 780.5L1294.7 781.5L1299.6 782.5L1304.5 783.5L1309.4 784.5L1314.3 785.4L1319.2 786.3L1324.1 787.2L1329.0 788.0L1333.9 788.8L1338.9 789.6L1343.8 790.3L1348.8 791.0L1353.7 791.7L1358.7 792.4L1363.7 793.0L1368.7 793.6L1373.6 794.3L1378.6 794.9L1383.6 795.4L1388.6 796.0L1393.6 796.6L1398.6 797.2L1403.6 797.8L1408.6 798.3L1413.6 798.9L1418.6 799.5L1423.5 800.1L1428.5 800.7L1433.5 801.3L1438.5 801.9L1443.5 802.6L1448.5 803.2L1453.4 803.9L1458.4 804.6L1463.4 805.2L1468.3 805.9L1473.3 806.6L1478.3 807.3L1483.2 808.0L1488.2 808.8L1493.2 809.5L1498.1 810.2L1503.1 810.9L1508.0 811.7L1513.0 812.4L1517.9 813.1L1522.9 813.9L1527.8 814.6L1532.8 815.3L1537.7 816.0L1542.7 816.7L1547.6 817.4L1552.6 818.1L1557.6 818.8L1562.5 819.5L1567.5 820.2L1572.4 820.8L1577.4 821.5L1582.3 822.1L1587.3 822.8L1592.3 823.4L1597.2 824.0L1602.2 824.5L1607.2 825.1L1612.1 825.7L1617.1 826.2L1622.1 826.7L1627.1 827.3L1632.0 827.8L1637.0 828.3L1642.0 828.7L1647.0 829.2L1652.0 829.7L1656.9 830.1L1661.9 830.6L1666.9 831.0L1671.9 831.4L1676.9 831.9L1681.9 832.3L1686.9 832.7L1691.9 833.1L1696.9 833.5L1701.8 833.9L1706.8 834.3L1711.8 834.6L1716.8 835.0L1721.8 835.4L1726.8 835.7L1731.8 836.1L1736.8 836.5L1741.8 836.8L1746.8 837.2L1751.8 837.5L1756.8 837.9L1761.8 838.2L1766.8 838.6L1771.8 838.9L1776.8 839.3L1781.8 839.7L1786.8 840.0L1791.8 840.4L1796.8 840.7L1801.8 841.1L1806.8 841.5L1811.8 841.8L1816.8 842.2L1821.7 842.6L1826.7 843.0L1831.7 843.3L1836.7 843.7L1841.7 844.1L1846.7 844.5L1851.7 844.9L1856.7 845.2L1861.7 845.6L1866.7 846.0L1871.7 846.4L1876.7 846.8L1881.7 847.2L1886.7 847.6L1891.7 847.9L1896.6 848.3L1901.6 848.7L1906.6 849.1L1911.6 849.5L1916.6 849.9L1921.6 850.3L1926.6 850.6L1931.6 851.0L1936.6 851.4L1941.6 851.8L1946.6 852.2L1951.6 852.6L1956.6 852.9L1961.6 853.3L1966.5 853.7L1971.5 854.1L1976.5 854.4L1981.5 854.8L1986.5 855.2L1991.5 855.5L1996.5 855.9L2001.5 856.3L2006.5 856.6L2011.5 857.0L2016.5 857.3L2021.5 857.7L2026.5 858.0L2031.5 858.4L2036.5 858.7L2041.5 859.0L2046.5 859.4L2051.5 859.7L2056.5 860.0L2061.5 860.3L2066.5 860.7L2071.5 861.0L2071.5 863.9L2068.6 863.9L2063.6 863.6L2058.6 863.2L2053.6 862.9L2048.6 862.6L2043.6 862.3L2038.6 861.9L2033.6 861.6L2028.6 861.3L2023.6 860.9L2018.6 860.6L2013.6 860.2L2008.6 859.9L2003.6 859.5L1998.6 859.2L1993.6 858.8L1988.6 858.4L1983.6 858.1L1978.6 857.7L1973.6 857.3L1968.6 857.0L1963.6 856.6L1958.7 856.2L1953.7 855.8L1948.7 855.5L1943.7 855.1L1938.7 854.7L1933.7 854.3L1928.7 853.9L1923.7 853.5L1918.7 853.2L1913.7 852.8L1908.7 852.4L1903.7 852.0L1898.7 851.6L1893.7 851.2L1888.8 850.8L1883.8 850.5L1878.8 850.1L1873.8 849.7L1868.8 849.3L1863.8 848.9L1858.8 848.5L1853.8 848.1L1848.8 847.8L1843.8 847.4L1838.8 847.0L1833.8 846.6L1828.8 846.2L1823.8 845.9L1818.8 845.5L1813.9 845.1L1808.9 844.7L1803.9 844.4L1798.9 844.0L1793.9 843.6L1788.9 843.3L1783.9 842.9L1778.9 842.6L1773.9 842.2L1768.9 841.8L1763.9 841.5L1758.9 841.1L1753.9 840.8L1748.9 840.4L1743.9 840.1L1738.9 839.7L1733.9 839.4L1728.9 839.0L1723.9 838.6L1718.9 838.3L1713.9 837.9L1708.9 837.5L1703.9 837.2L1698.9 836.8L1694.0 836.4L1689.0 836.0L1684.0 835.6L1679.0 835.2L1674.0 834.8L1669.0 834.3L1664.0 833.9L1659.0 833.5L1654.0 833.0L1649.1 832.6L1644.1 832.1L1639.1 831.6L1634.1 831.2L1629.1 830.7L1624.2 830.2L1619.2 829.6L1614.2 829.1L1609.2 828.6L1604.3 828.0L1599.3 827.4L1594.3 826.9L1589.4 826.3L1584.4 825.7L1579.4 825.0L1574.5 824.4L1569.5 823.7L1564.6 823.1L1559.6 822.4L1554.7 821.7L1549.7 821.0L1544.7 820.3L1539.8 819.6L1534.8 818.9L1529.9 818.2L1524.9 817.5L1520.0 816.8L1515.0 816.0L1510.1 815.3L1505.1 814.6L1500.2 813.8L1495.2 813.1L1490.3 812.4L1485.3 811.7L1480.3 810.9L1475.4 810.2L1470.4 809.5L1465.4 808.8L1460.5 808.1L1455.5 807.5L1450.5 806.8L1445.6 806.1L1440.6 805.5L1435.6 804.8L1430.6 804.2L1425.6 803.6L1420.6 803.0L1415.7 802.4L1410.7 801.8L1405.7 801.2L1400.7 800.7L1395.7 800.1L1390.7 799.5L1385.7 798.9L1380.7 798.3L1375.7 797.8L1370.7 797.2L1365.8 796.5L1360.8 795.9L1355.8 795.3L1350.8 794.6L1345.9 793.9L1340.9 793.2L1336.0 792.5L1331.0 791.7L1326.1 790.9L1321.2 790.1L1316.3 789.2L1311.4 788.3L1306.5 787.4L1301.6 786.4L1296.7 785.4L1291.8 784.4L1287.0 783.4L1282.1 782.3L1277.3 781.2L1272.4 780.1L1267.6 779.0L1262.7 777.9L1257.9 776.7L1253.1 775.5L1248.2 774.3L1243.4 773.1L1238.6 771.8L1233.7 770.6L1228.9 769.3L1224.1 768.0L1219.3 766.7L1214.5 765.4L1209.7 764.1L1204.8 762.7L1200.0 761.4L1195.2 760.1L1190.4 758.7L1185.6 757.3L1180.8 756.0L1175.9 754.6L1171.1 753.2L1166.3 751.9L1161.5 750.5L1156.6 749.1L1151.8 747.7L1147.0 746.3L1142.2 744.9L1137.3 743.5L1132.5 742.0L1127.7 740.6L1122.9 739.2L1118.0 737.7L1113.2 736.3L1108.4 734.8L1103.6 733.3L1098.8 731.8L1094.0 730.3L1089.2 728.8L1084.4 727.3L1079.6 725.7L1074.8 724.2L1070.0 722.6L1065.2 721.0L1060.4 719.4L1055.7 717.8L1050.9 716.2L1046.2 714.6L1041.4 712.9L1036.7 711.2L1031.9 709.5L1027.2 707.8L1022.5 706.1L1017.8 704.3L1013.1 702.6L1008.4 700.8L1003.7 699.0L999.1 697.1L994.4 695.3L989.8 693.4L985.1 691.5L980.5 689.6L975.9 687.7L971.3 685.7L966.7 683.7L962.1 681.7L957.6 679.7L953.0 677.6L948.5 675.5L944.0 673.4L939.5 671.3L935.0 669.1L930.5 666.9L926.0 664.7L921.6 662.4L917.2 660.2L912.7 657.9L908.3 655.5L903.9 653.2L899.6 650.8L895.2 648.4L890.8 646.0L886.5 643.6L882.2 641.1L877.9 638.6L873.6 636.1L869.3 633.5L865.0 631.0L860.7 628.4L856.5 625.8L852.2 623.2L848.0 620.6L843.8 617.9L839.6 615.2L835.4 612.5L831.2 609.8L827.0 607.1L822.8 604.3L818.7 601.6L814.5 598.8L810.4 596.0L806.3 593.2L802.1 590.3L798.0 587.5L793.9 584.6L789.8 581.8L785.7 578.9L781.7 576.0L777.6 573.0L773.5 570.1L769.5 567.2L765.4 564.2L761.4 561.2L757.3 558.3L753.3 555.3L749.3 552.3L745.3 549.3L741.3 546.2L737.2 543.2L733.3 540.2L729.3 537.1L725.3 534.1L721.3 531.0L717.3 527.9L713.3 524.8L709.4 521.7L705.4 518.6L701.5 515.5L697.5 512.4L693.6 509.3L689.6 506.2L685.7 503.0L681.8 499.9L677.8 496.7L673.9 493.6L670.0 490.4L666.1 487.2L662.3 484.0L658.4 480.8L654.5 477.6L650.7 474.4L646.8 471.1L643.0 467.9L639.2 464.6L635.4 461.4L631.6 458.1L627.8 454.8L624.0 451.5L620.2 448.1L616.5 444.8L612.8 441.5L609.0 438.1L605.3 434.7L601.7 431.3L598.0 427.9L594.3 424.5L590.7 421.1L587.0 417.6L583.4 414.2L579.8 410.7L576.3 407.2L572.7 403.7L569.2 400.2L565.6 396.6L562.1 393.1L558.7 389.5L555.2 385.9L551.7 382.3L548.3 378.7L544.9 375.0L541.5 371.4L538.2 367.7L534.8 364.0L531.5 360.2L528.2 356.5L525.0 352.7L521.7 349.0L518.5 345.2L515.3 341.3L512.1 337.5L508.9 333.6L505.8 329.8L502.7 325.9L499.6 321.9L496.6 318.0L493.6 314.0L490.5 310.0L487.6 306.0L484.6 302.0L481.7 298.0L478.7 293.9L475.8 289.9L472.9 285.8L470.0 281.7L467.2 277.6L464.3 273.5L461.5 269.4L458.7 265.2L455.9 261.1L453.1 256.9L450.3 252.8L447.5 248.6L444.7 244.4L442.0 240.2L439.2 236.0L436.5 231.8L433.7 227.7L431.0 223.5L428.2 219.3L425.5 215.1L422.7 210.9L420.0 206.6L417.3 202.4L414.5 198.3L411.8 194.1L409.0 189.9L406.3 185.7L403.5 181.5L400.7 177.3L398.0 173.2L395.2 169.0L392.4 164.8L389.6 160.7L386.8 156.6L383.9 152.4L381.1 148.3L378.3 144.2L375.4 140.1L372.5 136.1L369.6 132.0L366.6 128.0L363.7 123.9L360.7 119.9L357.7 115.9L354.7 112.0L351.7 108.0L348.6 104.1L345.5 100.2L342.3 96.3L339.2 92.4L336.0 88.6L332.7 84.8L329.5 81.0L326.2 77.2L322.8 73.5L319.5 69.8L316.0 66.1L312.6 62.5L309.1 58.8L305.5 55.3Z" fill="#008000" stroke="#008000" stroke-width="4.4" stroke-linejoin="round"/>
<rect x="302.9" y="51.2" width="8" height="27.6" fill="#008000"/>
</g>
<g font-size="73" text-anchor="middle">
<text x="246.0" y="1485.6">0</text>
<text x="447.9" y="1485.6">100</text>
<text x="650.4" y="1485.6">200</text>
<text x="852.8" y="1485.6">300</text>
<text x="1056.4" y="1485.6">400</text>
<text x="1258.5" y="1485.6">500</text>
<text x="1462.3" y="1485.6">600</text>
<text x="1663.4" y="1485.6">700</text>
<text x="1866.1" y="1485.6">800</text>
<text x="2068.8" y="1485.6">900</text>
</g>
<g font-size="73" text-anchor="end">
<text x="202" y="74.2">100</text>
<text x="202" y="364.3">95</text>
<text x="202" y="653.0">90</text>
<text x="202" y="942.6">85</text>
<text x="202" y="1231.3">80</text>
</g>
<text x="817.7" y="1586.8" font-size="92">Temperature<tspan x="1337.4">(</tspan><tspan x="1366.4">°</tspan><tspan x="1400.5">C</tspan><tspan x="1465.7">)</tspan></text>
<text transform="translate(95,1066.9) rotate(-90)" font-size="91.3" x="0" y="0">Mass Loss (%)</text>
<rect x="403.6" y="765.7" width="168.6" height="5.6" fill="#000"/>
<text x="584.6" y="792.6" font-size="65">VO<tspan font-size="29" x="684.3" dy="22">x</tspan><tspan x="701.3" dy="-22">/10MgAlO-R</tspan></text>
<rect x="403.6" y="870.0" width="168.6" height="7.6" fill="#ff0000"/>
<text x="584.6" y="898.0" font-size="65">VO<tspan font-size="29" x="684.3" dy="22">x</tspan><tspan x="701.3" dy="-22">/15MgAlO-R</tspan></text>
<rect x="403.6" y="976.5" width="168.6" height="7.6" fill="#0000ff"/>
<text x="584.6" y="1003.4" font-size="65">VO<tspan font-size="29" x="684.3" dy="22">x</tspan><tspan x="701.3" dy="-22">/20MgAlO-R</tspan></text>
<rect x="403.6" y="1082.7" width="168.6" height="6.0" fill="#ff00ff"/>
<text x="584.6" y="1108.8" font-size="65">VO<tspan font-size="29" x="684.3" dy="22">x</tspan><tspan x="701.3" dy="-22">/25MgAlO-R</tspan></text>
<rect x="403.6" y="1188.6" width="168.6" height="6.0" fill="#008000"/>
<text x="584.6" y="1214.2" font-size="65">VO<tspan font-size="29" x="684.3" dy="22">x</tspan><tspan x="701.3" dy="-22">/30MgAlO-R</tspan></text>
<line x1="1539.9" y1="743.5" x2="1641.8" y2="554.2" stroke="#000" stroke-width="1.7"/>
<polygon points="1657.0,526.0 1649.2,560.4 1632.5,551.4" fill="#000"/>
<line x1="1550.2" y1="789.6" x2="1633.6" y2="719.2" stroke="#000" stroke-width="1.7"/>
<polygon points="1658.0,698.5 1638.2,727.7 1625.9,713.2" fill="#000"/>
<line x1="1523.0" y1="820.5" x2="1605.4" y2="858.6" stroke="#000" stroke-width="1.7"/>
<polygon points="1634.5,872.0 1599.6,866.4 1607.6,849.1" fill="#000"/>
<g font-size="65">
<text x="1655.1" y="544.8">12%</text>
<text x="1654.7" y="719.6">13%</text>
<text x="1645.3" y="893.8">14%</text>
<text x="1650.5" y="1058.0">18%</text>
<text x="1661.0" y="1211.0">21%</text>
</g>
</svg></body></html>
